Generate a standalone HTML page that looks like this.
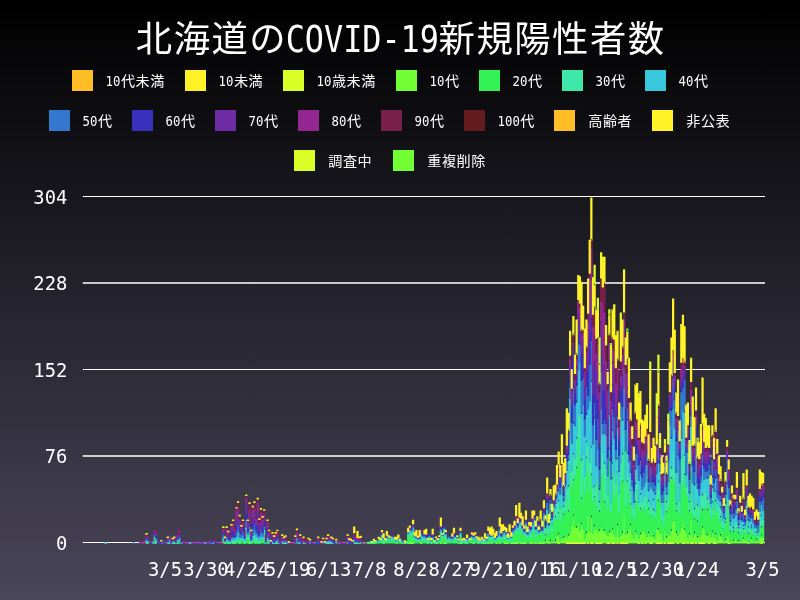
<!DOCTYPE html>
<html lang="ja"><head><meta charset="utf-8"><title>北海道のCOVID-19新規陽性者数</title>
<style>
html,body{margin:0;padding:0;background:#000;}
body{width:800px;height:600px;overflow:hidden;}
svg{display:block;}
text{font-family:"Liberation Sans", "Noto Sans CJK JP", sans-serif;fill:#fff;}
.a{font-family:"DejaVu Sans Mono", "Liberation Mono", monospace;}
.t{font-size:36.34px;letter-spacing:1.51px;}
.l{font-size:14.11px;letter-spacing:0.59px;}
</style></head><body>
<svg width="800" height="600" viewBox="0 0 800 600">
<defs><linearGradient id="bg" x1="0" y1="0" x2="0" y2="1"><stop offset="0" stop-color="#000000"/><stop offset="1" stop-color="#4a465a"/></linearGradient></defs>
<rect width="800" height="600" fill="url(#bg)"/>

<text class="t" x="135.81" y="52.28">北海道の</text>
<text class="a" transform="translate(285.69 51.90) scale(0.8719 1)" font-size="36.49" text-anchor="start">COVID-19</text>
<text class="t" x="438.61" y="52.28">新規陽性者数</text>
<rect x="72" y="70" width="21" height="21" fill="#FFBE26"/>
<text class="a" transform="translate(105.61 85.50) scale(0.9383 1)" font-size="13.17" text-anchor="start">10</text>
<text class="l" x="120.89" y="85.65">代未満</text>
<rect x="185" y="70" width="21" height="21" fill="#FFF226"/>
<text class="a" transform="translate(218.61 85.50) scale(0.9383 1)" font-size="13.17" text-anchor="start">10</text>
<text class="l" x="233.89" y="85.65">未満</text>
<rect x="283" y="70" width="21" height="21" fill="#D9FF26"/>
<text class="a" transform="translate(316.61 85.50) scale(0.9383 1)" font-size="13.17" text-anchor="start">10</text>
<text class="l" x="331.89" y="85.65">歳未満</text>
<rect x="396" y="70" width="21" height="21" fill="#72FF33"/>
<text class="a" transform="translate(429.61 85.50) scale(0.9383 1)" font-size="13.17" text-anchor="start">10</text>
<text class="l" x="444.89" y="85.65">代</text>
<rect x="479" y="70" width="21" height="21" fill="#33F255"/>
<text class="a" transform="translate(512.61 85.50) scale(0.9383 1)" font-size="13.17" text-anchor="start">20</text>
<text class="l" x="527.89" y="85.65">代</text>
<rect x="562" y="70" width="21" height="21" fill="#3DE8A8"/>
<text class="a" transform="translate(595.61 85.50) scale(0.9383 1)" font-size="13.17" text-anchor="start">30</text>
<text class="l" x="610.89" y="85.65">代</text>
<rect x="645" y="70" width="21" height="21" fill="#38C8DC"/>
<text class="a" transform="translate(678.61 85.50) scale(0.9383 1)" font-size="13.17" text-anchor="start">40</text>
<text class="l" x="693.89" y="85.65">代</text>
<rect x="49" y="110" width="21" height="21" fill="#3377CF"/>
<text class="a" transform="translate(82.61 125.50) scale(0.9383 1)" font-size="13.17" text-anchor="start">50</text>
<text class="l" x="97.89" y="125.65">代</text>
<rect x="132" y="110" width="21" height="21" fill="#3A30BE"/>
<text class="a" transform="translate(165.61 125.50) scale(0.9383 1)" font-size="13.17" text-anchor="start">60</text>
<text class="l" x="180.89" y="125.65">代</text>
<rect x="215" y="110" width="21" height="21" fill="#6E2BA5"/>
<text class="a" transform="translate(248.61 125.50) scale(0.9383 1)" font-size="13.17" text-anchor="start">70</text>
<text class="l" x="263.89" y="125.65">代</text>
<rect x="298" y="110" width="21" height="21" fill="#93278F"/>
<text class="a" transform="translate(331.61 125.50) scale(0.9383 1)" font-size="13.17" text-anchor="start">80</text>
<text class="l" x="346.89" y="125.65">代</text>
<rect x="381" y="110" width="21" height="21" fill="#7A1F4A"/>
<text class="a" transform="translate(414.61 125.50) scale(0.9383 1)" font-size="13.17" text-anchor="start">90</text>
<text class="l" x="429.89" y="125.65">代</text>
<rect x="464" y="110" width="21" height="21" fill="#651C1F"/>
<text class="a" transform="translate(497.61 125.50) scale(0.9383 1)" font-size="13.17" text-anchor="start">100</text>
<text class="l" x="520.24" y="125.65">代</text>
<rect x="554" y="110" width="21" height="21" fill="#FFBE26"/>
<text class="l" x="588.19" y="125.65">高齢者</text>
<rect x="652" y="110" width="21" height="21" fill="#FFF226"/>
<text class="l" x="686.19" y="125.65">非公表</text>
<rect x="294" y="150" width="21" height="21" fill="#D9FF26"/>
<text class="l" x="328.19" y="165.65">調査中</text>
<rect x="393" y="150" width="21" height="21" fill="#72FF33"/>
<text class="l" x="427.19" y="165.65">重複削除</text>
<rect x="82.75" y="196" width="682.25" height="1" fill="#fff"/>
<text class="a" transform="translate(67.30 203.55) scale(0.9734 1)" font-size="19.34" text-anchor="end">304</text>
<rect x="82.75" y="282" width="682.25" height="2" fill="#fff" fill-opacity="0.76"/>
<text class="a" transform="translate(67.30 290.05) scale(0.9734 1)" font-size="19.34" text-anchor="end">228</text>
<rect x="82.75" y="369" width="682.25" height="1" fill="#fff"/>
<text class="a" transform="translate(67.30 376.55) scale(0.9734 1)" font-size="19.34" text-anchor="end">152</text>
<rect x="82.75" y="455" width="682.25" height="2" fill="#fff" fill-opacity="0.76"/>
<text class="a" transform="translate(67.30 463.05) scale(0.9734 1)" font-size="19.34" text-anchor="end">76</text>
<rect x="82.75" y="542" width="682.25" height="1" fill="#fff"/>
<text class="a" transform="translate(67.30 549.55) scale(0.9734 1)" font-size="19.34" text-anchor="end">0</text>
<text class="a" transform="translate(165.00 575.60) scale(0.9734 1)" font-size="19.34" text-anchor="middle">3/5</text>
<text class="a" transform="translate(205.89 575.60) scale(0.9734 1)" font-size="19.34" text-anchor="middle">3/30</text>
<text class="a" transform="translate(246.78 575.60) scale(0.9734 1)" font-size="19.34" text-anchor="middle">4/24</text>
<text class="a" transform="translate(287.67 575.60) scale(0.9734 1)" font-size="19.34" text-anchor="middle">5/19</text>
<text class="a" transform="translate(328.56 575.60) scale(0.9734 1)" font-size="19.34" text-anchor="middle">6/13</text>
<text class="a" transform="translate(369.45 575.60) scale(0.9734 1)" font-size="19.34" text-anchor="middle">7/8</text>
<text class="a" transform="translate(410.34 575.60) scale(0.9734 1)" font-size="19.34" text-anchor="middle">8/2</text>
<text class="a" transform="translate(451.23 575.60) scale(0.9734 1)" font-size="19.34" text-anchor="middle">8/27</text>
<text class="a" transform="translate(492.12 575.60) scale(0.9734 1)" font-size="19.34" text-anchor="middle">9/21</text>
<text class="a" transform="translate(533.01 575.60) scale(0.9734 1)" font-size="19.34" text-anchor="middle">10/16</text>
<text class="a" transform="translate(573.90 575.60) scale(0.9734 1)" font-size="19.34" text-anchor="middle">11/10</text>
<text class="a" transform="translate(614.79 575.60) scale(0.9734 1)" font-size="19.34" text-anchor="middle">12/5</text>
<text class="a" transform="translate(655.68 575.60) scale(0.9734 1)" font-size="19.34" text-anchor="middle">12/30</text>
<text class="a" transform="translate(696.57 575.60) scale(0.9734 1)" font-size="19.34" text-anchor="middle">1/24</text>
<text class="a" transform="translate(762.50 575.60) scale(0.9734 1)" font-size="19.34" text-anchor="middle">3/5</text>
<g>
<path fill="#D9FF26" d="M557.52 542.18h2.25v1.7h-2.25zM565.7 542.18h2.25v1.7h-2.25zM567.33 542.18h2.25v1.7h-2.25zM568.97 542.18h2.25v1.7h-2.25zM570.6 542.18h2.25v1.7h-2.25zM572.24 542.18h2.25v1.7h-2.25zM573.87 542.18h2.25v1.7h-2.25zM575.51 542.18h2.25v1.7h-2.25zM577.15 542.18h2.25v1.7h-2.25zM578.78 542.18h2.25v1.7h-2.25zM580.42 542.18h2.25v1.7h-2.25zM582.05 542.18h2.25v1.7h-2.25zM583.69 542.18h2.25v1.7h-2.25zM586.96 542.18h2.25v1.7h-2.25zM590.23 542.18h2.25v1.7h-2.25zM591.87 542.18h2.25v1.7h-2.25zM595.14 542.18h2.25v1.7h-2.25zM596.77 542.18h2.25v1.7h-2.25zM598.41 542.18h2.25v1.7h-2.25zM600.04 542.18h2.25v1.7h-2.25zM606.58 542.18h2.25v1.7h-2.25zM608.22 542.18h2.25v1.7h-2.25zM611.49 542.18h2.25v1.7h-2.25zM613.13 542.18h2.25v1.7h-2.25zM616.4 542.18h2.25v1.7h-2.25zM619.67 542.18h2.25v1.7h-2.25zM621.3 542.18h2.25v1.7h-2.25zM622.94 542.18h2.25v1.7h-2.25zM624.57 542.18h2.25v1.7h-2.25zM626.21 542.18h2.25v1.7h-2.25zM637.66 542.18h2.25v1.7h-2.25zM640.93 542.18h2.25v1.7h-2.25zM644.2 542.18h2.25v1.7h-2.25zM649.11 542.18h2.25v1.7h-2.25zM650.74 542.18h2.25v1.7h-2.25zM655.65 542.18h2.25v1.7h-2.25zM657.28 542.18h2.25v1.7h-2.25zM658.92 542.18h2.25v1.7h-2.25zM660.56 542.18h2.25v1.7h-2.25zM663.83 542.18h2.25v1.7h-2.25zM667.1 542.18h2.25v1.7h-2.25zM668.73 542.18h2.25v1.7h-2.25zM670.37 542.18h2.25v1.7h-2.25zM672 542.18h2.25v1.7h-2.25zM676.91 542.18h2.25v1.7h-2.25zM681.82 542.18h2.25v1.7h-2.25zM683.45 542.18h2.25v1.7h-2.25zM686.72 542.18h2.25v1.7h-2.25zM689.99 542.18h2.25v1.7h-2.25zM691.63 542.18h2.25v1.7h-2.25zM694.9 542.18h2.25v1.7h-2.25zM698.17 542.18h2.25v1.7h-2.25zM699.81 542.18h2.25v1.7h-2.25zM701.44 542.18h2.25v1.7h-2.25zM703.08 542.18h2.25v1.7h-2.25zM707.99 542.18h2.25v1.7h-2.25zM712.89 542.18h2.25v1.7h-2.25zM714.53 542.18h2.25v1.7h-2.25zM727.61 542.18h2.25v1.7h-2.25zM760.32 542.18h2.25v1.7h-2.25z"/>
<path fill="#72FF33" d="M248.41 542.18h2.25v1.7h-2.25zM407.05 542.18h2.25v1.7h-2.25zM408.69 542.18h2.25v1.7h-2.25zM410.33 542.18h2.25v1.7h-2.25zM411.96 542.18h2.25v1.7h-2.25zM420.14 542.18h2.25v1.7h-2.25zM439.76 542.18h2.25v1.7h-2.25zM443.04 542.18h2.25v1.7h-2.25zM444.67 542.18h2.25v1.7h-2.25zM459.39 542.18h2.25v1.7h-2.25zM472.47 542.18h2.25v1.7h-2.25zM483.92 542.18h2.25v1.7h-2.25zM487.19 542.18h2.25v1.7h-2.25zM490.46 542.18h2.25v1.7h-2.25zM495.37 542.18h2.25v1.7h-2.25zM498.64 542.18h2.25v1.7h-2.25zM503.55 542.18h2.25v1.7h-2.25zM505.18 542.18h2.25v1.7h-2.25zM506.82 542.18h2.25v1.7h-2.25zM510.09 542.18h2.25v1.7h-2.25zM511.73 542.18h2.25v1.7h-2.25zM513.36 542.18h2.25v1.7h-2.25zM515 542.18h2.25v1.7h-2.25zM516.63 542.18h2.25v1.7h-2.25zM518.27 541.32h2.25v2.28h-2.25zM519.9 542.18h2.25v1.7h-2.25zM521.54 542.18h2.25v1.7h-2.25zM523.17 542.18h2.25v1.7h-2.25zM524.81 542.18h2.25v1.7h-2.25zM528.08 541.32h2.25v2.28h-2.25zM529.72 542.18h2.25v1.7h-2.25zM531.35 542.18h2.25v1.7h-2.25zM532.99 541.32h2.25v2.28h-2.25zM534.62 542.18h2.25v1.7h-2.25zM536.26 541.32h2.25v2.28h-2.25zM537.89 542.18h2.25v1.7h-2.25zM539.53 542.18h2.25v1.7h-2.25zM541.16 542.18h2.25v1.7h-2.25zM542.8 542.18h2.25v1.7h-2.25zM544.44 541.32h2.25v2.28h-2.25zM546.07 536.77h2.25v6.83h-2.25zM547.71 542.18h2.25v1.7h-2.25zM549.34 541.32h2.25v2.28h-2.25zM550.98 541.32h2.25v2.28h-2.25zM552.61 541.32h2.25v2.28h-2.25zM554.25 541.32h2.25v2.28h-2.25zM555.88 535.63h2.25v7.97h-2.25zM557.52 534.49h2.25v7.97h-2.25zM559.16 540.19h2.25v3.41h-2.25zM560.79 539.05h2.25v4.55h-2.25zM562.43 537.91h2.25v5.69h-2.25zM564.06 537.91h2.25v5.69h-2.25zM565.7 537.91h2.25v4.55h-2.25zM567.33 535.63h2.25v6.83h-2.25zM568.97 533.36h2.25v9.11h-2.25zM570.6 525.39h2.25v17.07h-2.25zM572.24 516.28h2.25v26.18h-2.25zM573.87 526.53h2.25v15.93h-2.25zM575.51 527.67h2.25v14.8h-2.25zM577.15 523.11h2.25v19.35h-2.25zM578.78 531.08h2.25v11.38h-2.25zM580.42 524.25h2.25v18.21h-2.25zM582.05 528.8h2.25v13.66h-2.25zM583.69 539.05h2.25v3.41h-2.25zM585.32 533.36h2.25v10.24h-2.25zM586.96 515.15h2.25v27.32h-2.25zM588.59 532.22h2.25v11.38h-2.25zM590.23 517.42h2.25v25.04h-2.25zM591.87 533.36h2.25v9.11h-2.25zM593.5 526.53h2.25v17.07h-2.25zM595.14 529.94h2.25v12.52h-2.25zM596.77 532.22h2.25v10.24h-2.25zM598.41 531.08h2.25v11.38h-2.25zM600.04 527.67h2.25v14.8h-2.25zM601.68 531.08h2.25v12.52h-2.25zM603.31 531.08h2.25v12.52h-2.25zM604.95 533.36h2.25v10.24h-2.25zM606.58 535.63h2.25v6.83h-2.25zM608.22 532.22h2.25v10.24h-2.25zM609.86 532.22h2.25v11.38h-2.25zM611.49 529.94h2.25v12.52h-2.25zM613.13 534.49h2.25v7.97h-2.25zM614.76 536.77h2.25v6.83h-2.25zM616.4 525.39h2.25v17.07h-2.25zM618.03 537.91h2.25v5.69h-2.25zM619.67 535.63h2.25v6.83h-2.25zM621.3 533.36h2.25v9.11h-2.25zM622.94 515.15h2.25v27.32h-2.25zM624.57 534.49h2.25v7.97h-2.25zM626.21 533.36h2.25v9.11h-2.25zM627.85 529.94h2.25v13.66h-2.25zM629.48 525.39h2.25v18.21h-2.25zM631.12 534.49h2.25v9.11h-2.25zM632.75 539.05h2.25v4.55h-2.25zM634.39 532.22h2.25v11.38h-2.25zM636.02 534.49h2.25v9.11h-2.25zM637.66 539.05h2.25v3.41h-2.25zM639.29 534.49h2.25v9.11h-2.25zM640.93 532.22h2.25v10.24h-2.25zM642.57 531.08h2.25v12.52h-2.25zM644.2 533.36h2.25v9.11h-2.25zM645.84 536.77h2.25v6.83h-2.25zM647.47 533.36h2.25v10.24h-2.25zM649.11 536.77h2.25v5.69h-2.25zM650.74 533.36h2.25v9.11h-2.25zM652.38 536.77h2.25v6.83h-2.25zM654.01 539.05h2.25v4.55h-2.25zM655.65 528.8h2.25v13.66h-2.25zM657.28 529.94h2.25v12.52h-2.25zM658.92 533.36h2.25v9.11h-2.25zM660.56 532.22h2.25v10.24h-2.25zM662.19 540.19h2.25v3.41h-2.25zM663.83 531.08h2.25v11.38h-2.25zM665.46 537.91h2.25v5.69h-2.25zM667.1 533.36h2.25v9.11h-2.25zM668.73 535.63h2.25v6.83h-2.25zM670.37 531.08h2.25v11.38h-2.25zM672 521.98h2.25v20.49h-2.25zM673.64 520.84h2.25v22.76h-2.25zM675.28 533.36h2.25v10.24h-2.25zM676.91 535.63h2.25v6.83h-2.25zM678.55 532.22h2.25v11.38h-2.25zM680.18 527.67h2.25v15.93h-2.25zM681.82 523.11h2.25v19.35h-2.25zM683.45 529.94h2.25v12.52h-2.25zM685.09 532.22h2.25v11.38h-2.25zM686.72 537.91h2.25v4.55h-2.25zM688.36 534.49h2.25v9.11h-2.25zM689.99 519.7h2.25v22.76h-2.25zM691.63 537.91h2.25v4.55h-2.25zM693.27 533.36h2.25v10.24h-2.25zM694.9 534.49h2.25v7.97h-2.25zM696.54 537.91h2.25v5.69h-2.25zM698.17 536.77h2.25v5.69h-2.25zM699.81 534.49h2.25v7.97h-2.25zM701.44 527.67h2.25v14.8h-2.25zM703.08 528.8h2.25v13.66h-2.25zM704.71 534.49h2.25v9.11h-2.25zM706.35 535.63h2.25v7.97h-2.25zM707.99 532.22h2.25v10.24h-2.25zM709.62 536.77h2.25v6.83h-2.25zM711.26 532.22h2.25v11.38h-2.25zM712.89 537.91h2.25v4.55h-2.25zM714.53 534.49h2.25v7.97h-2.25zM716.16 540.19h2.25v3.41h-2.25zM717.8 533.36h2.25v10.24h-2.25zM719.43 535.63h2.25v7.97h-2.25zM721.07 536.77h2.25v6.83h-2.25zM722.7 541.32h2.25v2.28h-2.25zM724.34 540.19h2.25v3.41h-2.25zM725.98 535.63h2.25v7.97h-2.25zM727.61 534.49h2.25v7.97h-2.25zM729.25 542.18h2.25v1.7h-2.25zM730.88 540.19h2.25v3.41h-2.25zM732.52 541.32h2.25v2.28h-2.25zM734.15 539.05h2.25v4.55h-2.25zM735.79 541.32h2.25v2.28h-2.25zM737.42 541.32h2.25v2.28h-2.25zM739.06 541.32h2.25v2.28h-2.25zM740.69 541.32h2.25v2.28h-2.25zM742.33 539.05h2.25v4.55h-2.25zM743.97 540.19h2.25v3.41h-2.25zM745.6 536.77h2.25v6.83h-2.25zM747.24 542.18h2.25v1.7h-2.25zM748.87 541.32h2.25v2.28h-2.25zM750.51 539.05h2.25v4.55h-2.25zM752.14 541.32h2.25v2.28h-2.25zM753.78 541.32h2.25v2.28h-2.25zM755.41 540.19h2.25v3.41h-2.25zM757.05 541.32h2.25v2.28h-2.25zM758.69 537.91h2.25v5.69h-2.25zM760.32 535.63h2.25v6.83h-2.25zM761.96 537.91h2.25v5.69h-2.25z"/>
<path fill="#33F255" d="M145.38 542.18h2.25v1.7h-2.25zM147.01 542.18h2.25v1.7h-2.25zM151.92 542.18h2.25v1.7h-2.25zM153.55 541.32h2.25v2.28h-2.25zM155.19 542.18h2.25v1.7h-2.25zM168.27 542.18h2.25v1.7h-2.25zM171.54 542.18h2.25v1.7h-2.25zM173.18 542.18h2.25v1.7h-2.25zM176.45 542.18h2.25v1.7h-2.25zM178.09 541.32h2.25v2.28h-2.25zM222.24 541.32h2.25v2.28h-2.25zM223.88 542.18h2.25v1.7h-2.25zM225.52 541.32h2.25v2.28h-2.25zM227.15 542.18h2.25v1.7h-2.25zM230.42 541.32h2.25v2.28h-2.25zM232.06 542.18h2.25v1.7h-2.25zM233.69 542.18h2.25v1.7h-2.25zM235.33 541.32h2.25v2.28h-2.25zM236.96 539.05h2.25v4.55h-2.25zM238.6 542.18h2.25v1.7h-2.25zM240.23 541.32h2.25v2.28h-2.25zM241.87 541.32h2.25v2.28h-2.25zM243.51 542.18h2.25v1.7h-2.25zM245.14 540.19h2.25v3.41h-2.25zM246.78 540.19h2.25v3.41h-2.25zM248.41 537.91h2.25v4.55h-2.25zM250.05 542.18h2.25v1.7h-2.25zM251.68 541.32h2.25v2.28h-2.25zM253.32 540.19h2.25v3.41h-2.25zM254.95 542.18h2.25v1.7h-2.25zM256.59 540.19h2.25v3.41h-2.25zM258.22 542.18h2.25v1.7h-2.25zM259.86 540.19h2.25v3.41h-2.25zM261.5 540.19h2.25v3.41h-2.25zM263.13 539.05h2.25v4.55h-2.25zM266.4 541.32h2.25v2.28h-2.25zM268.04 542.18h2.25v1.7h-2.25zM271.31 542.18h2.25v1.7h-2.25zM276.22 542.18h2.25v1.7h-2.25zM281.12 542.18h2.25v1.7h-2.25zM295.84 541.32h2.25v2.28h-2.25zM302.38 542.18h2.25v1.7h-2.25zM304.02 542.18h2.25v1.7h-2.25zM325.28 542.18h2.25v1.7h-2.25zM330.19 542.18h2.25v1.7h-2.25zM335.09 542.18h2.25v1.7h-2.25zM346.54 542.18h2.25v1.7h-2.25zM353.08 542.18h2.25v1.7h-2.25zM356.35 542.18h2.25v1.7h-2.25zM357.99 542.18h2.25v1.7h-2.25zM359.63 542.18h2.25v1.7h-2.25zM362.9 542.18h2.25v1.7h-2.25zM366.17 542.18h2.25v1.7h-2.25zM367.8 542.18h2.25v1.7h-2.25zM369.44 542.18h2.25v1.7h-2.25zM371.07 542.18h2.25v1.7h-2.25zM372.71 542.18h2.25v1.7h-2.25zM374.34 542.18h2.25v1.7h-2.25zM375.98 541.32h2.25v2.28h-2.25zM377.62 541.32h2.25v2.28h-2.25zM379.25 541.32h2.25v2.28h-2.25zM380.89 539.05h2.25v4.55h-2.25zM382.52 542.18h2.25v1.7h-2.25zM384.16 541.32h2.25v2.28h-2.25zM385.79 539.05h2.25v4.55h-2.25zM387.43 541.32h2.25v2.28h-2.25zM389.06 541.32h2.25v2.28h-2.25zM390.7 540.19h2.25v3.41h-2.25zM392.34 540.19h2.25v3.41h-2.25zM393.97 541.32h2.25v2.28h-2.25zM395.61 542.18h2.25v1.7h-2.25zM397.24 540.19h2.25v3.41h-2.25zM398.88 541.32h2.25v2.28h-2.25zM400.51 542.18h2.25v1.7h-2.25zM402.15 542.18h2.25v1.7h-2.25zM403.78 542.18h2.25v1.7h-2.25zM405.42 542.18h2.25v1.7h-2.25zM407.05 535.63h2.25v6.83h-2.25zM408.69 535.63h2.25v6.83h-2.25zM410.33 536.77h2.25v5.69h-2.25zM411.96 534.49h2.25v7.97h-2.25zM413.6 539.05h2.25v4.55h-2.25zM415.23 541.32h2.25v2.28h-2.25zM416.87 541.32h2.25v2.28h-2.25zM418.5 541.32h2.25v2.28h-2.25zM420.14 536.77h2.25v5.69h-2.25zM421.77 541.32h2.25v2.28h-2.25zM423.41 539.05h2.25v4.55h-2.25zM425.05 541.32h2.25v2.28h-2.25zM426.68 542.18h2.25v1.7h-2.25zM428.32 539.05h2.25v4.55h-2.25zM429.95 542.18h2.25v1.7h-2.25zM431.59 540.19h2.25v3.41h-2.25zM433.22 542.18h2.25v1.7h-2.25zM434.86 542.18h2.25v1.7h-2.25zM436.49 542.18h2.25v1.7h-2.25zM438.13 540.19h2.25v3.41h-2.25zM439.76 535.63h2.25v6.83h-2.25zM441.4 539.05h2.25v4.55h-2.25zM443.04 534.49h2.25v7.97h-2.25zM444.67 537.91h2.25v4.55h-2.25zM446.31 541.32h2.25v2.28h-2.25zM447.94 540.19h2.25v3.41h-2.25zM449.58 541.32h2.25v2.28h-2.25zM451.21 541.32h2.25v2.28h-2.25zM452.85 540.19h2.25v3.41h-2.25zM454.48 539.05h2.25v4.55h-2.25zM456.12 540.19h2.25v3.41h-2.25zM457.75 542.18h2.25v1.7h-2.25zM459.39 537.91h2.25v4.55h-2.25zM461.03 542.18h2.25v1.7h-2.25zM462.66 541.32h2.25v2.28h-2.25zM464.3 542.18h2.25v1.7h-2.25zM465.93 542.18h2.25v1.7h-2.25zM467.57 541.32h2.25v2.28h-2.25zM469.2 541.32h2.25v2.28h-2.25zM470.84 540.19h2.25v3.41h-2.25zM472.47 540.19h2.25v2.28h-2.25zM474.11 539.05h2.25v4.55h-2.25zM475.75 541.32h2.25v2.28h-2.25zM477.38 542.18h2.25v1.7h-2.25zM479.02 541.32h2.25v2.28h-2.25zM480.65 542.18h2.25v1.7h-2.25zM482.29 542.18h2.25v1.7h-2.25zM483.92 541.04h2.25v1.7h-2.25zM485.56 542.18h2.25v1.7h-2.25zM487.19 537.91h2.25v4.55h-2.25zM488.83 541.32h2.25v2.28h-2.25zM490.46 539.05h2.25v3.41h-2.25zM492.1 539.05h2.25v4.55h-2.25zM493.74 541.32h2.25v2.28h-2.25zM495.37 540.19h2.25v2.28h-2.25zM497.01 539.05h2.25v4.55h-2.25zM498.64 537.91h2.25v4.55h-2.25zM500.28 540.19h2.25v3.41h-2.25zM501.91 536.77h2.25v6.83h-2.25zM503.55 537.91h2.25v4.55h-2.25zM505.18 539.05h2.25v3.41h-2.25zM506.82 541.04h2.25v1.7h-2.25zM508.46 537.91h2.25v5.69h-2.25zM510.09 541.04h2.25v1.7h-2.25zM511.73 535.63h2.25v6.83h-2.25zM513.36 532.22h2.25v10.24h-2.25zM515 531.08h2.25v11.38h-2.25zM516.63 534.49h2.25v7.97h-2.25zM518.27 529.94h2.25v11.38h-2.25zM519.9 528.8h2.25v13.66h-2.25zM521.54 534.49h2.25v7.97h-2.25zM523.17 535.63h2.25v6.83h-2.25zM524.81 532.22h2.25v10.24h-2.25zM526.45 537.91h2.25v5.69h-2.25zM528.08 535.63h2.25v5.69h-2.25zM529.72 537.91h2.25v4.55h-2.25zM531.35 532.22h2.25v10.24h-2.25zM532.99 528.8h2.25v12.52h-2.25zM534.62 537.91h2.25v4.55h-2.25zM536.26 533.36h2.25v7.97h-2.25zM537.89 535.63h2.25v6.83h-2.25zM539.53 531.08h2.25v11.38h-2.25zM541.16 534.49h2.25v7.97h-2.25zM542.8 532.22h2.25v10.24h-2.25zM544.44 535.63h2.25v5.69h-2.25zM546.07 521.98h2.25v14.8h-2.25zM547.71 533.36h2.25v9.11h-2.25zM549.34 520.84h2.25v20.49h-2.25zM550.98 532.22h2.25v9.11h-2.25zM552.61 521.98h2.25v19.35h-2.25zM554.25 517.42h2.25v23.9h-2.25zM555.88 519.7h2.25v15.93h-2.25zM557.52 514.01h2.25v20.49h-2.25zM559.16 521.98h2.25v18.21h-2.25zM560.79 503.76h2.25v35.28h-2.25zM562.43 515.15h2.25v22.76h-2.25zM564.06 511.73h2.25v26.18h-2.25zM565.7 498.07h2.25v39.84h-2.25zM567.33 511.73h2.25v23.9h-2.25zM568.97 463.93h2.25v69.43h-2.25zM570.6 487.83h2.25v37.56h-2.25zM572.24 481h2.25v35.28h-2.25zM573.87 476.45h2.25v50.08h-2.25zM575.51 468.48h2.25v59.18h-2.25zM577.15 437.75h2.25v85.36h-2.25zM578.78 459.38h2.25v71.7h-2.25zM580.42 499.21h2.25v25.04h-2.25zM582.05 479.86h2.25v48.94h-2.25zM583.69 492.38h2.25v46.66h-2.25zM585.32 458.24h2.25v75.12h-2.25zM586.96 471.9h2.25v43.25h-2.25zM588.59 490.11h2.25v42.11h-2.25zM590.23 475.31h2.25v42.11h-2.25zM591.87 501.49h2.25v31.87h-2.25zM593.5 498.07h2.25v28.45h-2.25zM595.14 507.18h2.25v22.76h-2.25zM596.77 485.55h2.25v46.66h-2.25zM598.41 511.73h2.25v19.35h-2.25zM600.04 477.59h2.25v50.08h-2.25zM601.68 474.17h2.25v56.91h-2.25zM603.31 502.63h2.25v28.45h-2.25zM604.95 479.86h2.25v53.49h-2.25zM606.58 510.59h2.25v25.04h-2.25zM608.22 460.51h2.25v71.7h-2.25zM609.86 511.73h2.25v20.49h-2.25zM611.49 478.73h2.25v51.22h-2.25zM613.13 498.07h2.25v36.42h-2.25zM614.76 491.24h2.25v45.53h-2.25zM616.4 473.03h2.25v52.36h-2.25zM618.03 512.87h2.25v25.04h-2.25zM619.67 481h2.25v54.63h-2.25zM621.3 482.14h2.25v51.22h-2.25zM622.94 447.99h2.25v67.15h-2.25zM624.57 504.9h2.25v29.59h-2.25zM626.21 482.14h2.25v51.22h-2.25zM627.85 493.52h2.25v36.42h-2.25zM629.48 504.9h2.25v20.49h-2.25zM631.12 516.28h2.25v18.21h-2.25zM632.75 518.56h2.25v20.49h-2.25zM634.39 502.63h2.25v29.59h-2.25zM636.02 491.24h2.25v43.25h-2.25zM637.66 507.18h2.25v31.87h-2.25zM639.29 509.46h2.25v25.04h-2.25zM640.93 510.59h2.25v21.62h-2.25zM642.57 507.18h2.25v23.9h-2.25zM644.2 510.59h2.25v22.76h-2.25zM645.84 502.63h2.25v34.14h-2.25zM647.47 509.46h2.25v23.9h-2.25zM649.11 516.28h2.25v20.49h-2.25zM650.74 516.28h2.25v17.07h-2.25zM652.38 510.59h2.25v26.18h-2.25zM654.01 518.56h2.25v20.49h-2.25zM655.65 498.07h2.25v30.73h-2.25zM657.28 501.49h2.25v28.45h-2.25zM658.92 495.8h2.25v37.56h-2.25zM660.56 520.84h2.25v11.38h-2.25zM662.19 525.39h2.25v14.8h-2.25zM663.83 498.07h2.25v33.01h-2.25zM665.46 512.87h2.25v25.04h-2.25zM667.1 507.18h2.25v26.18h-2.25zM668.73 478.73h2.25v56.91h-2.25zM670.37 478.73h2.25v52.36h-2.25zM672 478.73h2.25v43.25h-2.25zM673.64 481h2.25v39.84h-2.25zM675.28 511.73h2.25v21.62h-2.25zM676.91 487.83h2.25v47.8h-2.25zM678.55 514.01h2.25v18.21h-2.25zM680.18 485.55h2.25v42.11h-2.25zM681.82 481h2.25v42.11h-2.25zM683.45 475.31h2.25v54.63h-2.25zM685.09 494.66h2.25v37.56h-2.25zM686.72 495.8h2.25v42.11h-2.25zM688.36 511.73h2.25v22.76h-2.25zM689.99 471.9h2.25v47.8h-2.25zM691.63 514.01h2.25v23.9h-2.25zM693.27 519.7h2.25v13.66h-2.25zM694.9 502.63h2.25v31.87h-2.25zM696.54 521.98h2.25v15.93h-2.25zM698.17 516.28h2.25v20.49h-2.25zM699.81 507.18h2.25v27.32h-2.25zM701.44 510.59h2.25v17.07h-2.25zM703.08 509.46h2.25v19.35h-2.25zM704.71 506.04h2.25v28.45h-2.25zM706.35 510.59h2.25v25.04h-2.25zM707.99 503.76h2.25v28.45h-2.25zM709.62 518.56h2.25v18.21h-2.25zM711.26 502.63h2.25v29.59h-2.25zM712.89 516.28h2.25v21.62h-2.25zM714.53 501.49h2.25v33.01h-2.25zM716.16 511.73h2.25v28.45h-2.25zM717.8 519.7h2.25v13.66h-2.25zM719.43 517.42h2.25v18.21h-2.25zM721.07 528.8h2.25v7.97h-2.25zM722.7 528.8h2.25v12.52h-2.25zM724.34 523.11h2.25v17.07h-2.25zM725.98 502.63h2.25v33.01h-2.25zM727.61 514.01h2.25v20.49h-2.25zM729.25 532.22h2.25v10.24h-2.25zM730.88 531.08h2.25v9.11h-2.25zM732.52 532.22h2.25v9.11h-2.25zM734.15 529.94h2.25v9.11h-2.25zM735.79 527.67h2.25v13.66h-2.25zM737.42 533.36h2.25v7.97h-2.25zM739.06 534.49h2.25v6.83h-2.25zM740.69 533.36h2.25v7.97h-2.25zM742.33 529.94h2.25v9.11h-2.25zM743.97 533.36h2.25v6.83h-2.25zM745.6 521.98h2.25v14.8h-2.25zM747.24 534.49h2.25v7.97h-2.25zM748.87 533.36h2.25v7.97h-2.25zM750.51 528.8h2.25v10.24h-2.25zM752.14 535.63h2.25v5.69h-2.25zM753.78 534.49h2.25v6.83h-2.25zM755.41 533.36h2.25v6.83h-2.25zM757.05 539.05h2.25v2.28h-2.25zM758.69 526.53h2.25v11.38h-2.25zM760.32 527.67h2.25v7.97h-2.25zM761.96 526.53h2.25v11.38h-2.25z"/>
<path fill="#3DE8A8" d="M145.38 541.04h2.25v1.7h-2.25zM153.55 539.05h2.25v2.28h-2.25zM155.19 541.04h2.25v1.7h-2.25zM166.64 542.18h2.25v1.7h-2.25zM168.27 541.04h2.25v1.7h-2.25zM176.45 541.04h2.25v1.7h-2.25zM178.09 539.9h2.25v1.7h-2.25zM204.25 542.18h2.25v1.7h-2.25zM212.43 542.18h2.25v1.7h-2.25zM222.24 539.9h2.25v1.7h-2.25zM223.88 541.04h2.25v1.7h-2.25zM225.52 539.9h2.25v1.7h-2.25zM227.15 541.04h2.25v1.7h-2.25zM228.79 542.18h2.25v1.7h-2.25zM230.42 539.9h2.25v1.7h-2.25zM232.06 541.04h2.25v1.7h-2.25zM233.69 540.19h2.25v2.28h-2.25zM235.33 539.9h2.25v1.7h-2.25zM236.96 533.36h2.25v5.69h-2.25zM238.6 540.19h2.25v2.28h-2.25zM240.23 539.05h2.25v2.28h-2.25zM241.87 539.05h2.25v2.28h-2.25zM243.51 541.04h2.25v1.7h-2.25zM245.14 533.36h2.25v6.83h-2.25zM246.78 536.77h2.25v3.41h-2.25zM248.41 534.49h2.25v3.41h-2.25zM250.05 541.04h2.25v1.7h-2.25zM251.68 539.9h2.25v1.7h-2.25zM253.32 535.63h2.25v4.55h-2.25zM254.95 539.05h2.25v3.41h-2.25zM256.59 538.77h2.25v1.7h-2.25zM258.22 541.04h2.25v1.7h-2.25zM259.86 538.77h2.25v1.7h-2.25zM261.5 538.77h2.25v1.7h-2.25zM263.13 535.63h2.25v3.41h-2.25zM266.4 539.05h2.25v2.28h-2.25zM268.04 541.04h2.25v1.7h-2.25zM274.58 542.18h2.25v1.7h-2.25zM276.22 541.04h2.25v1.7h-2.25zM282.76 542.18h2.25v1.7h-2.25zM284.39 542.18h2.25v1.7h-2.25zM295.84 539.9h2.25v1.7h-2.25zM308.93 542.18h2.25v1.7h-2.25zM326.92 542.18h2.25v1.7h-2.25zM328.55 542.18h2.25v1.7h-2.25zM353.08 541.04h2.25v1.7h-2.25zM354.72 542.18h2.25v1.7h-2.25zM369.44 541.04h2.25v1.7h-2.25zM372.71 541.04h2.25v1.7h-2.25zM374.34 541.04h2.25v1.7h-2.25zM377.62 539.9h2.25v1.7h-2.25zM380.89 535.63h2.25v3.41h-2.25zM382.52 540.19h2.25v2.28h-2.25zM384.16 539.9h2.25v1.7h-2.25zM385.79 537.63h2.25v1.7h-2.25zM387.43 539.05h2.25v2.28h-2.25zM389.06 539.05h2.25v2.28h-2.25zM390.7 537.91h2.25v2.28h-2.25zM392.34 538.77h2.25v1.7h-2.25zM393.97 539.9h2.25v1.7h-2.25zM395.61 541.04h2.25v1.7h-2.25zM398.88 539.9h2.25v1.7h-2.25zM400.51 541.04h2.25v1.7h-2.25zM405.42 541.04h2.25v1.7h-2.25zM407.05 534.21h2.25v1.7h-2.25zM408.69 532.22h2.25v3.41h-2.25zM410.33 533.36h2.25v3.41h-2.25zM411.96 531.08h2.25v3.41h-2.25zM413.6 537.63h2.25v1.7h-2.25zM415.23 539.05h2.25v2.28h-2.25zM416.87 539.9h2.25v1.7h-2.25zM418.5 539.9h2.25v1.7h-2.25zM420.14 535.35h2.25v1.7h-2.25zM421.77 539.05h2.25v2.28h-2.25zM423.41 537.63h2.25v1.7h-2.25zM425.05 539.9h2.25v1.7h-2.25zM426.68 541.04h2.25v1.7h-2.25zM428.32 536.77h2.25v2.28h-2.25zM429.95 541.04h2.25v1.7h-2.25zM431.59 538.77h2.25v1.7h-2.25zM433.22 541.04h2.25v1.7h-2.25zM434.86 541.04h2.25v1.7h-2.25zM436.49 541.04h2.25v1.7h-2.25zM438.13 538.77h2.25v1.7h-2.25zM439.76 532.22h2.25v3.41h-2.25zM441.4 536.77h2.25v2.28h-2.25zM443.04 531.08h2.25v3.41h-2.25zM444.67 536.49h2.25v1.7h-2.25zM446.31 539.9h2.25v1.7h-2.25zM447.94 538.77h2.25v1.7h-2.25zM449.58 539.9h2.25v1.7h-2.25zM451.21 539.9h2.25v1.7h-2.25zM452.85 537.91h2.25v2.28h-2.25zM454.48 537.63h2.25v1.7h-2.25zM456.12 538.77h2.25v1.7h-2.25zM457.75 541.04h2.25v1.7h-2.25zM459.39 534.49h2.25v3.41h-2.25zM461.03 541.04h2.25v1.7h-2.25zM462.66 539.9h2.25v1.7h-2.25zM464.3 541.04h2.25v1.7h-2.25zM465.93 541.04h2.25v1.7h-2.25zM467.57 539.05h2.25v2.28h-2.25zM469.2 539.9h2.25v1.7h-2.25zM470.84 537.91h2.25v2.28h-2.25zM472.47 538.77h2.25v1.7h-2.25zM474.11 536.77h2.25v2.28h-2.25zM475.75 539.9h2.25v1.7h-2.25zM477.38 541.04h2.25v1.7h-2.25zM479.02 539.9h2.25v1.7h-2.25zM480.65 541.04h2.25v1.7h-2.25zM482.29 541.04h2.25v1.7h-2.25zM483.92 539.05h2.25v2.28h-2.25zM485.56 541.04h2.25v1.7h-2.25zM487.19 536.49h2.25v1.7h-2.25zM488.83 537.91h2.25v3.41h-2.25zM490.46 536.77h2.25v2.28h-2.25zM492.1 536.77h2.25v2.28h-2.25zM493.74 539.9h2.25v1.7h-2.25zM495.37 538.77h2.25v1.7h-2.25zM497.01 536.77h2.25v2.28h-2.25zM498.64 535.63h2.25v2.28h-2.25zM500.28 537.91h2.25v2.28h-2.25zM501.91 534.49h2.25v2.28h-2.25zM503.55 534.49h2.25v3.41h-2.25zM505.18 536.77h2.25v2.28h-2.25zM506.82 539.05h2.25v2.28h-2.25zM508.46 536.49h2.25v1.7h-2.25zM510.09 539.05h2.25v2.28h-2.25zM511.73 534.21h2.25v1.7h-2.25zM513.36 530.8h2.25v1.7h-2.25zM515 527.67h2.25v3.41h-2.25zM516.63 531.08h2.25v3.41h-2.25zM518.27 525.39h2.25v4.55h-2.25zM519.9 525.39h2.25v3.41h-2.25zM521.54 531.08h2.25v3.41h-2.25zM523.17 534.21h2.25v1.7h-2.25zM524.81 528.8h2.25v3.41h-2.25zM526.45 535.63h2.25v2.28h-2.25zM528.08 532.22h2.25v3.41h-2.25zM529.72 533.36h2.25v4.55h-2.25zM531.35 528.8h2.25v3.41h-2.25zM532.99 524.25h2.25v4.55h-2.25zM534.62 533.36h2.25v4.55h-2.25zM536.26 527.67h2.25v5.69h-2.25zM537.89 533.36h2.25v2.28h-2.25zM539.53 528.8h2.25v2.28h-2.25zM541.16 533.08h2.25v1.7h-2.25zM542.8 520.84h2.25v11.38h-2.25zM544.44 528.8h2.25v6.83h-2.25zM546.07 515.15h2.25v6.83h-2.25zM547.71 528.8h2.25v4.55h-2.25zM549.34 511.73h2.25v9.11h-2.25zM550.98 525.39h2.25v6.83h-2.25zM552.61 511.73h2.25v10.24h-2.25zM554.25 508.32h2.25v9.11h-2.25zM555.88 503.76h2.25v15.93h-2.25zM557.52 501.49h2.25v12.52h-2.25zM559.16 508.32h2.25v13.66h-2.25zM560.79 490.11h2.25v13.66h-2.25zM562.43 507.18h2.25v7.97h-2.25zM564.06 499.21h2.25v12.52h-2.25zM565.7 488.97h2.25v9.11h-2.25zM567.33 486.69h2.25v25.04h-2.25zM568.97 440.03h2.25v23.9h-2.25zM570.6 470.76h2.25v17.07h-2.25zM572.24 454.82h2.25v26.18h-2.25zM573.87 458.24h2.25v18.21h-2.25zM575.51 438.89h2.25v29.59h-2.25zM577.15 413.85h2.25v23.9h-2.25zM578.78 416.13h2.25v43.25h-2.25zM580.42 460.51h2.25v38.7h-2.25zM582.05 453.69h2.25v26.18h-2.25zM583.69 476.45h2.25v15.93h-2.25zM585.32 442.3h2.25v15.93h-2.25zM586.96 445.72h2.25v26.18h-2.25zM588.59 462.79h2.25v27.32h-2.25zM590.23 447.99h2.25v27.32h-2.25zM591.87 487.83h2.25v13.66h-2.25zM593.5 486.69h2.25v11.38h-2.25zM595.14 483.28h2.25v23.9h-2.25zM596.77 473.03h2.25v12.52h-2.25zM598.41 502.63h2.25v9.11h-2.25zM600.04 440.03h2.25v37.56h-2.25zM601.68 452.55h2.25v21.62h-2.25zM603.31 463.93h2.25v38.7h-2.25zM604.95 468.48h2.25v11.38h-2.25zM606.58 494.66h2.25v15.93h-2.25zM608.22 449.13h2.25v11.38h-2.25zM609.86 503.76h2.25v7.97h-2.25zM611.49 463.93h2.25v14.8h-2.25zM613.13 475.31h2.25v22.76h-2.25zM614.76 483.28h2.25v7.97h-2.25zM616.4 459.38h2.25v13.66h-2.25zM618.03 493.52h2.25v19.35h-2.25zM619.67 462.79h2.25v18.21h-2.25zM621.3 454.82h2.25v27.32h-2.25zM622.94 429.78h2.25v18.21h-2.25zM624.57 481h2.25v23.9h-2.25zM626.21 453.69h2.25v28.45h-2.25zM627.85 476.45h2.25v17.07h-2.25zM629.48 491.24h2.25v13.66h-2.25zM631.12 504.9h2.25v11.38h-2.25zM632.75 508.32h2.25v10.24h-2.25zM634.39 484.42h2.25v18.21h-2.25zM636.02 476.45h2.25v14.8h-2.25zM637.66 502.63h2.25v4.55h-2.25zM639.29 494.66h2.25v14.8h-2.25zM640.93 501.49h2.25v9.11h-2.25zM642.57 496.94h2.25v10.24h-2.25zM644.2 496.94h2.25v13.66h-2.25zM645.84 474.17h2.25v28.45h-2.25zM647.47 501.49h2.25v7.97h-2.25zM649.11 504.9h2.25v11.38h-2.25zM650.74 508.32h2.25v7.97h-2.25zM652.38 500.35h2.25v10.24h-2.25zM654.01 511.73h2.25v6.83h-2.25zM655.65 488.97h2.25v9.11h-2.25zM657.28 482.14h2.25v19.35h-2.25zM658.92 488.97h2.25v6.83h-2.25zM660.56 508.32h2.25v12.52h-2.25zM662.19 516.28h2.25v9.11h-2.25zM663.83 487.83h2.25v10.24h-2.25zM665.46 502.63h2.25v10.24h-2.25zM667.1 494.66h2.25v12.52h-2.25zM668.73 457.1h2.25v21.62h-2.25zM670.37 468.48h2.25v10.24h-2.25zM672 450.27h2.25v28.45h-2.25zM673.64 469.62h2.25v11.38h-2.25zM675.28 504.9h2.25v6.83h-2.25zM676.91 471.9h2.25v15.93h-2.25zM678.55 501.49h2.25v12.52h-2.25zM680.18 458.24h2.25v27.32h-2.25zM681.82 447.99h2.25v33.01h-2.25zM683.45 455.96h2.25v19.35h-2.25zM685.09 486.69h2.25v7.97h-2.25zM686.72 484.42h2.25v11.38h-2.25zM688.36 502.63h2.25v9.11h-2.25zM689.99 455.96h2.25v15.93h-2.25zM691.63 500.35h2.25v13.66h-2.25zM693.27 509.46h2.25v10.24h-2.25zM694.9 484.42h2.25v18.21h-2.25zM696.54 506.04h2.25v15.93h-2.25zM698.17 507.18h2.25v9.11h-2.25zM699.81 493.52h2.25v13.66h-2.25zM701.44 495.8h2.25v14.8h-2.25zM703.08 488.97h2.25v20.49h-2.25zM704.71 492.38h2.25v13.66h-2.25zM706.35 499.21h2.25v11.38h-2.25zM707.99 496.94h2.25v6.83h-2.25zM709.62 508.32h2.25v10.24h-2.25zM711.26 487.83h2.25v14.8h-2.25zM712.89 509.46h2.25v6.83h-2.25zM714.53 492.38h2.25v9.11h-2.25zM716.16 503.76h2.25v7.97h-2.25zM717.8 507.18h2.25v12.52h-2.25zM719.43 508.32h2.25v9.11h-2.25zM721.07 520.84h2.25v7.97h-2.25zM722.7 523.11h2.25v5.69h-2.25zM724.34 519.7h2.25v3.41h-2.25zM725.98 494.66h2.25v7.97h-2.25zM727.61 508.32h2.25v5.69h-2.25zM729.25 525.39h2.25v6.83h-2.25zM730.88 527.67h2.25v3.41h-2.25zM732.52 528.8h2.25v3.41h-2.25zM734.15 523.11h2.25v6.83h-2.25zM735.79 520.84h2.25v6.83h-2.25zM737.42 528.8h2.25v4.55h-2.25zM739.06 527.67h2.25v6.83h-2.25zM740.69 528.8h2.25v4.55h-2.25zM742.33 526.53h2.25v3.41h-2.25zM743.97 528.8h2.25v4.55h-2.25zM745.6 511.73h2.25v10.24h-2.25zM747.24 527.67h2.25v6.83h-2.25zM748.87 529.94h2.25v3.41h-2.25zM750.51 526.53h2.25v2.28h-2.25zM752.14 528.8h2.25v6.83h-2.25zM753.78 532.22h2.25v2.28h-2.25zM755.41 528.8h2.25v4.55h-2.25zM757.05 535.63h2.25v3.41h-2.25zM758.69 518.56h2.25v7.97h-2.25zM760.32 516.28h2.25v11.38h-2.25zM761.96 519.7h2.25v6.83h-2.25z"/>
<path fill="#38C8DC" d="M104.49 542.18h2.25v1.7h-2.25zM145.38 539.9h2.25v1.7h-2.25zM147.01 541.04h2.25v1.7h-2.25zM151.92 541.04h2.25v1.7h-2.25zM153.55 536.77h2.25v2.28h-2.25zM155.19 539.9h2.25v1.7h-2.25zM168.27 539.9h2.25v1.7h-2.25zM171.54 541.04h2.25v1.7h-2.25zM173.18 541.04h2.25v1.7h-2.25zM174.81 542.18h2.25v1.7h-2.25zM176.45 539.9h2.25v1.7h-2.25zM178.09 538.77h2.25v1.7h-2.25zM179.72 542.18h2.25v1.7h-2.25zM187.9 542.18h2.25v1.7h-2.25zM189.53 542.18h2.25v1.7h-2.25zM222.24 537.91h2.25v2.28h-2.25zM225.52 537.91h2.25v2.28h-2.25zM227.15 539.9h2.25v1.7h-2.25zM228.79 541.04h2.25v1.7h-2.25zM230.42 538.77h2.25v1.7h-2.25zM232.06 539.05h2.25v2.28h-2.25zM233.69 537.91h2.25v2.28h-2.25zM235.33 536.77h2.25v3.41h-2.25zM236.96 529.94h2.25v3.41h-2.25zM238.6 537.91h2.25v2.28h-2.25zM240.23 537.63h2.25v1.7h-2.25zM241.87 535.63h2.25v3.41h-2.25zM243.51 539.05h2.25v2.28h-2.25zM245.14 527.67h2.25v5.69h-2.25zM246.78 534.49h2.25v2.28h-2.25zM248.41 531.08h2.25v3.41h-2.25zM250.05 539.9h2.25v1.7h-2.25zM251.68 535.63h2.25v4.55h-2.25zM253.32 532.22h2.25v3.41h-2.25zM254.95 534.49h2.25v4.55h-2.25zM256.59 536.77h2.25v2.28h-2.25zM258.22 537.91h2.25v3.41h-2.25zM259.86 533.36h2.25v5.69h-2.25zM261.5 536.77h2.25v2.28h-2.25zM263.13 529.94h2.25v5.69h-2.25zM264.77 542.18h2.25v1.7h-2.25zM266.4 537.63h2.25v1.7h-2.25zM268.04 539.9h2.25v1.7h-2.25zM271.31 541.04h2.25v1.7h-2.25zM272.94 542.18h2.25v1.7h-2.25zM274.58 541.04h2.25v1.7h-2.25zM276.22 539.9h2.25v1.7h-2.25zM277.85 542.18h2.25v1.7h-2.25zM281.12 541.04h2.25v1.7h-2.25zM284.39 541.04h2.25v1.7h-2.25zM286.03 542.18h2.25v1.7h-2.25zM295.84 537.91h2.25v2.28h-2.25zM297.48 542.18h2.25v1.7h-2.25zM299.11 542.18h2.25v1.7h-2.25zM308.93 541.04h2.25v1.7h-2.25zM325.28 541.04h2.25v1.7h-2.25zM326.92 541.04h2.25v1.7h-2.25zM328.55 541.04h2.25v1.7h-2.25zM330.19 541.04h2.25v1.7h-2.25zM331.82 542.18h2.25v1.7h-2.25zM335.09 541.04h2.25v1.7h-2.25zM338.36 542.18h2.25v1.7h-2.25zM353.08 539.9h2.25v1.7h-2.25zM372.71 539.9h2.25v1.7h-2.25zM379.25 539.9h2.25v1.7h-2.25zM380.89 534.21h2.25v1.7h-2.25zM382.52 538.77h2.25v1.7h-2.25zM387.43 537.63h2.25v1.7h-2.25zM390.7 536.49h2.25v1.7h-2.25zM392.34 537.63h2.25v1.7h-2.25zM393.97 538.77h2.25v1.7h-2.25zM397.24 538.77h2.25v1.7h-2.25zM400.51 539.9h2.25v1.7h-2.25zM407.05 533.08h2.25v1.7h-2.25zM408.69 529.94h2.25v2.28h-2.25zM410.33 531.08h2.25v2.28h-2.25zM411.96 527.67h2.25v3.41h-2.25zM413.6 536.49h2.25v1.7h-2.25zM415.23 537.63h2.25v1.7h-2.25zM416.87 538.77h2.25v1.7h-2.25zM418.5 538.77h2.25v1.7h-2.25zM420.14 534.21h2.25v1.7h-2.25zM421.77 536.77h2.25v2.28h-2.25zM423.41 536.49h2.25v1.7h-2.25zM425.05 537.91h2.25v2.28h-2.25zM426.68 539.9h2.25v1.7h-2.25zM431.59 537.63h2.25v1.7h-2.25zM434.86 539.9h2.25v1.7h-2.25zM438.13 537.63h2.25v1.7h-2.25zM439.76 530.8h2.25v1.7h-2.25zM441.4 535.35h2.25v1.7h-2.25zM443.04 528.8h2.25v2.28h-2.25zM444.67 534.49h2.25v2.28h-2.25zM446.31 538.77h2.25v1.7h-2.25zM447.94 537.63h2.25v1.7h-2.25zM449.58 538.77h2.25v1.7h-2.25zM451.21 538.77h2.25v1.7h-2.25zM452.85 536.49h2.25v1.7h-2.25zM454.48 536.49h2.25v1.7h-2.25zM456.12 537.63h2.25v1.7h-2.25zM459.39 533.08h2.25v1.7h-2.25zM461.03 539.9h2.25v1.7h-2.25zM462.66 538.77h2.25v1.7h-2.25zM464.3 539.9h2.25v1.7h-2.25zM465.93 539.9h2.25v1.7h-2.25zM467.57 537.63h2.25v1.7h-2.25zM470.84 536.49h2.25v1.7h-2.25zM472.47 537.63h2.25v1.7h-2.25zM474.11 535.35h2.25v1.7h-2.25zM475.75 538.77h2.25v1.7h-2.25zM477.38 539.9h2.25v1.7h-2.25zM480.65 539.9h2.25v1.7h-2.25zM482.29 539.9h2.25v1.7h-2.25zM485.56 539.9h2.25v1.7h-2.25zM487.19 534.49h2.25v2.28h-2.25zM488.83 536.49h2.25v1.7h-2.25zM492.1 535.35h2.25v1.7h-2.25zM493.74 538.77h2.25v1.7h-2.25zM495.37 537.63h2.25v1.7h-2.25zM497.01 535.35h2.25v1.7h-2.25zM498.64 531.08h2.25v4.55h-2.25zM500.28 536.49h2.25v1.7h-2.25zM501.91 533.08h2.25v1.7h-2.25zM503.55 532.22h2.25v2.28h-2.25zM505.18 534.49h2.25v2.28h-2.25zM508.46 534.49h2.25v2.28h-2.25zM510.09 537.63h2.25v1.7h-2.25zM511.73 532.22h2.25v2.28h-2.25zM513.36 529.66h2.25v1.7h-2.25zM515 524.25h2.25v3.41h-2.25zM516.63 527.67h2.25v3.41h-2.25zM518.27 523.11h2.25v2.28h-2.25zM519.9 523.11h2.25v2.28h-2.25zM521.54 528.8h2.25v2.28h-2.25zM523.17 532.22h2.25v2.28h-2.25zM524.81 524.25h2.25v4.55h-2.25zM526.45 534.21h2.25v1.7h-2.25zM528.08 529.94h2.25v2.28h-2.25zM529.72 531.08h2.25v2.28h-2.25zM531.35 525.39h2.25v3.41h-2.25zM532.99 519.7h2.25v4.55h-2.25zM534.62 529.94h2.25v3.41h-2.25zM536.26 526.25h2.25v1.7h-2.25zM537.89 531.94h2.25v1.7h-2.25zM539.53 526.53h2.25v2.28h-2.25zM541.16 531.08h2.25v2.28h-2.25zM542.8 516.28h2.25v4.55h-2.25zM544.44 527.38h2.25v1.7h-2.25zM546.07 509.46h2.25v5.69h-2.25zM547.71 525.39h2.25v3.41h-2.25zM549.34 503.76h2.25v7.97h-2.25zM550.98 519.7h2.25v5.69h-2.25zM552.61 507.18h2.25v4.55h-2.25zM554.25 503.76h2.25v4.55h-2.25zM555.88 498.07h2.25v5.69h-2.25zM557.52 491.24h2.25v10.24h-2.25zM559.16 494.66h2.25v13.66h-2.25zM560.79 482.14h2.25v7.97h-2.25zM562.43 501.49h2.25v5.69h-2.25zM564.06 486.69h2.25v12.52h-2.25zM565.7 470.76h2.25v18.21h-2.25zM567.33 460.51h2.25v26.18h-2.25zM568.97 399.05h2.25v40.97h-2.25zM570.6 443.44h2.25v27.32h-2.25zM572.24 424.09h2.25v30.73h-2.25zM573.87 426.37h2.25v31.87h-2.25zM575.51 402.47h2.25v36.42h-2.25zM577.15 370.6h2.25v43.25h-2.25zM578.78 361.49h2.25v54.63h-2.25zM580.42 413.85h2.25v46.66h-2.25zM582.05 404.74h2.25v48.94h-2.25zM583.69 436.61h2.25v39.84h-2.25zM585.32 414.99h2.25v27.32h-2.25zM586.96 409.3h2.25v36.42h-2.25zM588.59 401.33h2.25v61.46h-2.25zM590.23 381.98h2.25v66.01h-2.25zM591.87 444.58h2.25v43.25h-2.25zM593.5 418.4h2.25v68.29h-2.25zM595.14 466.21h2.25v17.07h-2.25zM596.77 449.13h2.25v23.9h-2.25zM598.41 490.11h2.25v12.52h-2.25zM600.04 409.3h2.25v30.73h-2.25zM601.68 434.34h2.25v18.21h-2.25zM603.31 433.2h2.25v30.73h-2.25zM604.95 435.48h2.25v33.01h-2.25zM606.58 476.45h2.25v18.21h-2.25zM608.22 414.99h2.25v34.14h-2.25zM609.86 479.86h2.25v23.9h-2.25zM611.49 430.92h2.25v33.01h-2.25zM613.13 438.89h2.25v36.42h-2.25zM614.76 459.38h2.25v23.9h-2.25zM616.4 427.51h2.25v31.87h-2.25zM618.03 471.9h2.25v21.62h-2.25zM619.67 417.26h2.25v45.53h-2.25zM621.3 420.68h2.25v34.14h-2.25zM622.94 387.67h2.25v42.11h-2.25zM624.57 451.41h2.25v29.59h-2.25zM626.21 420.68h2.25v33.01h-2.25zM627.85 462.79h2.25v13.66h-2.25zM629.48 473.03h2.25v18.21h-2.25zM631.12 486.69h2.25v18.21h-2.25zM632.75 502.63h2.25v5.69h-2.25zM634.39 469.62h2.25v14.8h-2.25zM636.02 466.21h2.25v10.24h-2.25zM637.66 481h2.25v21.62h-2.25zM639.29 474.17h2.25v20.49h-2.25zM640.93 490.11h2.25v11.38h-2.25zM642.57 486.69h2.25v10.24h-2.25zM644.2 482.14h2.25v14.8h-2.25zM645.84 465.07h2.25v9.11h-2.25zM647.47 491.24h2.25v10.24h-2.25zM649.11 486.69h2.25v18.21h-2.25zM650.74 488.97h2.25v19.35h-2.25zM652.38 491.24h2.25v9.11h-2.25zM654.01 494.66h2.25v17.07h-2.25zM655.65 474.17h2.25v14.8h-2.25zM657.28 462.79h2.25v19.35h-2.25zM658.92 471.9h2.25v17.07h-2.25zM660.56 502.63h2.25v5.69h-2.25zM662.19 502.63h2.25v13.66h-2.25zM663.83 474.17h2.25v13.66h-2.25zM665.46 494.66h2.25v7.97h-2.25zM667.1 482.14h2.25v12.52h-2.25zM668.73 425.23h2.25v31.87h-2.25zM670.37 438.89h2.25v29.59h-2.25zM672 408.16h2.25v42.11h-2.25zM673.64 428.65h2.25v40.97h-2.25zM675.28 473.03h2.25v31.87h-2.25zM676.91 455.96h2.25v15.93h-2.25zM678.55 483.28h2.25v18.21h-2.25zM680.18 438.89h2.25v19.35h-2.25zM681.82 410.44h2.25v37.56h-2.25zM683.45 412.71h2.25v43.25h-2.25zM685.09 475.31h2.25v11.38h-2.25zM686.72 452.55h2.25v31.87h-2.25zM688.36 493.52h2.25v9.11h-2.25zM689.99 426.37h2.25v29.59h-2.25zM691.63 483.28h2.25v17.07h-2.25zM693.27 485.55h2.25v23.9h-2.25zM694.9 454.82h2.25v29.59h-2.25zM696.54 488.97h2.25v17.07h-2.25zM698.17 495.8h2.25v11.38h-2.25zM699.81 482.14h2.25v11.38h-2.25zM701.44 465.07h2.25v30.73h-2.25zM703.08 479.86h2.25v9.11h-2.25zM704.71 477.59h2.25v14.8h-2.25zM706.35 478.73h2.25v20.49h-2.25zM707.99 477.59h2.25v19.35h-2.25zM709.62 503.76h2.25v4.55h-2.25zM711.26 477.59h2.25v10.24h-2.25zM712.89 491.24h2.25v18.21h-2.25zM714.53 478.73h2.25v13.66h-2.25zM716.16 498.07h2.25v5.69h-2.25zM717.8 500.35h2.25v6.83h-2.25zM719.43 501.49h2.25v6.83h-2.25zM721.07 510.59h2.25v10.24h-2.25zM722.7 518.56h2.25v4.55h-2.25zM724.34 503.76h2.25v15.93h-2.25zM725.98 484.42h2.25v10.24h-2.25zM727.61 499.21h2.25v9.11h-2.25zM729.25 521.98h2.25v3.41h-2.25zM730.88 516.28h2.25v11.38h-2.25zM732.52 518.56h2.25v10.24h-2.25zM734.15 516.28h2.25v6.83h-2.25zM735.79 509.46h2.25v11.38h-2.25zM737.42 525.39h2.25v3.41h-2.25zM739.06 519.7h2.25v7.97h-2.25zM740.69 521.98h2.25v6.83h-2.25zM742.33 521.98h2.25v4.55h-2.25zM743.97 525.39h2.25v3.41h-2.25zM745.6 506.04h2.25v5.69h-2.25zM747.24 520.84h2.25v6.83h-2.25zM748.87 521.98h2.25v7.97h-2.25zM750.51 518.56h2.25v7.97h-2.25zM752.14 523.11h2.25v5.69h-2.25zM753.78 527.67h2.25v4.55h-2.25zM755.41 526.53h2.25v2.28h-2.25zM757.05 532.22h2.25v3.41h-2.25zM758.69 511.73h2.25v6.83h-2.25zM760.32 504.9h2.25v11.38h-2.25zM761.96 510.59h2.25v9.11h-2.25z"/>
<path fill="#3377CF" d="M132.29 542.18h2.25v1.7h-2.25zM145.38 538.77h2.25v1.7h-2.25zM147.01 539.9h2.25v1.7h-2.25zM153.55 534.49h2.25v2.28h-2.25zM155.19 537.91h2.25v2.28h-2.25zM160.1 542.18h2.25v1.7h-2.25zM161.73 542.18h2.25v1.7h-2.25zM166.64 541.04h2.25v1.7h-2.25zM168.27 538.77h2.25v1.7h-2.25zM169.91 542.18h2.25v1.7h-2.25zM176.45 538.77h2.25v1.7h-2.25zM178.09 536.77h2.25v2.28h-2.25zM181.36 542.18h2.25v1.7h-2.25zM197.71 542.18h2.25v1.7h-2.25zM199.35 542.18h2.25v1.7h-2.25zM202.62 542.18h2.25v1.7h-2.25zM209.16 542.18h2.25v1.7h-2.25zM210.8 542.18h2.25v1.7h-2.25zM212.43 541.04h2.25v1.7h-2.25zM222.24 534.49h2.25v3.41h-2.25zM225.52 536.49h2.25v1.7h-2.25zM227.15 538.77h2.25v1.7h-2.25zM228.79 539.9h2.25v1.7h-2.25zM230.42 536.77h2.25v2.28h-2.25zM232.06 536.77h2.25v2.28h-2.25zM233.69 536.49h2.25v1.7h-2.25zM235.33 532.22h2.25v4.55h-2.25zM236.96 524.25h2.25v5.69h-2.25zM238.6 532.22h2.25v5.69h-2.25zM240.23 534.49h2.25v3.41h-2.25zM241.87 531.08h2.25v4.55h-2.25zM243.51 537.63h2.25v1.7h-2.25zM245.14 519.7h2.25v7.97h-2.25zM246.78 532.22h2.25v2.28h-2.25zM248.41 526.53h2.25v4.55h-2.25zM250.05 538.77h2.25v1.7h-2.25zM251.68 528.8h2.25v6.83h-2.25zM253.32 524.25h2.25v7.97h-2.25zM254.95 529.94h2.25v4.55h-2.25zM256.59 533.36h2.25v3.41h-2.25zM258.22 535.63h2.25v2.28h-2.25zM259.86 528.8h2.25v4.55h-2.25zM261.5 533.36h2.25v3.41h-2.25zM263.13 526.53h2.25v3.41h-2.25zM264.77 541.04h2.25v1.7h-2.25zM266.4 534.49h2.25v3.41h-2.25zM268.04 537.91h2.25v2.28h-2.25zM271.31 539.9h2.25v1.7h-2.25zM274.58 539.9h2.25v1.7h-2.25zM276.22 538.77h2.25v1.7h-2.25zM281.12 539.9h2.25v1.7h-2.25zM282.76 541.04h2.25v1.7h-2.25zM284.39 539.9h2.25v1.7h-2.25zM294.21 542.18h2.25v1.7h-2.25zM295.84 536.49h2.25v1.7h-2.25zM297.48 541.04h2.25v1.7h-2.25zM299.11 541.04h2.25v1.7h-2.25zM302.38 541.04h2.25v1.7h-2.25zM313.83 542.18h2.25v1.7h-2.25zM317.1 542.18h2.25v1.7h-2.25zM322.01 542.18h2.25v1.7h-2.25zM323.64 542.18h2.25v1.7h-2.25zM326.92 539.9h2.25v1.7h-2.25zM328.55 539.9h2.25v1.7h-2.25zM346.54 541.04h2.25v1.7h-2.25zM349.81 542.18h2.25v1.7h-2.25zM353.08 538.77h2.25v1.7h-2.25zM354.72 541.04h2.25v1.7h-2.25zM356.35 541.04h2.25v1.7h-2.25zM359.63 541.04h2.25v1.7h-2.25zM375.98 539.9h2.25v1.7h-2.25zM377.62 538.77h2.25v1.7h-2.25zM382.52 537.63h2.25v1.7h-2.25zM385.79 536.49h2.25v1.7h-2.25zM387.43 536.49h2.25v1.7h-2.25zM389.06 537.63h2.25v1.7h-2.25zM390.7 535.35h2.25v1.7h-2.25zM395.61 539.9h2.25v1.7h-2.25zM397.24 537.63h2.25v1.7h-2.25zM402.15 541.04h2.25v1.7h-2.25zM407.05 531.94h2.25v1.7h-2.25zM410.33 529.66h2.25v1.7h-2.25zM411.96 526.25h2.25v1.7h-2.25zM413.6 535.35h2.25v1.7h-2.25zM418.5 537.63h2.25v1.7h-2.25zM420.14 533.08h2.25v1.7h-2.25zM421.77 535.35h2.25v1.7h-2.25zM423.41 535.35h2.25v1.7h-2.25zM425.05 536.49h2.25v1.7h-2.25zM428.32 535.35h2.25v1.7h-2.25zM429.95 539.9h2.25v1.7h-2.25zM431.59 536.49h2.25v1.7h-2.25zM434.86 538.77h2.25v1.7h-2.25zM436.49 539.9h2.25v1.7h-2.25zM439.76 528.8h2.25v2.28h-2.25zM441.4 534.21h2.25v1.7h-2.25zM443.04 527.38h2.25v1.7h-2.25zM444.67 533.08h2.25v1.7h-2.25zM447.94 536.49h2.25v1.7h-2.25zM451.21 537.63h2.25v1.7h-2.25zM452.85 535.35h2.25v1.7h-2.25zM456.12 536.49h2.25v1.7h-2.25zM457.75 539.9h2.25v1.7h-2.25zM459.39 531.94h2.25v1.7h-2.25zM465.93 538.77h2.25v1.7h-2.25zM470.84 535.35h2.25v1.7h-2.25zM472.47 536.49h2.25v1.7h-2.25zM475.75 537.63h2.25v1.7h-2.25zM480.65 538.77h2.25v1.7h-2.25zM483.92 537.63h2.25v1.7h-2.25zM485.56 538.77h2.25v1.7h-2.25zM487.19 533.08h2.25v1.7h-2.25zM488.83 535.35h2.25v1.7h-2.25zM490.46 535.35h2.25v1.7h-2.25zM492.1 534.21h2.25v1.7h-2.25zM493.74 537.63h2.25v1.7h-2.25zM495.37 536.49h2.25v1.7h-2.25zM497.01 534.21h2.25v1.7h-2.25zM498.64 528.8h2.25v2.28h-2.25zM500.28 535.35h2.25v1.7h-2.25zM501.91 531.94h2.25v1.7h-2.25zM503.55 530.8h2.25v1.7h-2.25zM505.18 533.08h2.25v1.7h-2.25zM506.82 537.63h2.25v1.7h-2.25zM508.46 533.08h2.25v1.7h-2.25zM510.09 536.49h2.25v1.7h-2.25zM511.73 529.94h2.25v2.28h-2.25zM513.36 528.52h2.25v1.7h-2.25zM515 521.98h2.25v2.28h-2.25zM516.63 525.39h2.25v2.28h-2.25zM518.27 521.69h2.25v1.7h-2.25zM519.9 520.84h2.25v2.28h-2.25zM521.54 527.38h2.25v1.7h-2.25zM523.17 530.8h2.25v1.7h-2.25zM524.81 521.98h2.25v2.28h-2.25zM526.45 533.08h2.25v1.7h-2.25zM528.08 528.52h2.25v1.7h-2.25zM529.72 528.8h2.25v2.28h-2.25zM531.35 521.98h2.25v3.41h-2.25zM532.99 517.42h2.25v2.28h-2.25zM534.62 528.52h2.25v1.7h-2.25zM536.26 524.25h2.25v2.28h-2.25zM537.89 530.8h2.25v1.7h-2.25zM539.53 524.25h2.25v2.28h-2.25zM541.16 529.66h2.25v1.7h-2.25zM542.8 512.87h2.25v3.41h-2.25zM544.44 525.39h2.25v2.28h-2.25zM546.07 502.63h2.25v6.83h-2.25zM547.71 523.97h2.25v1.7h-2.25zM549.34 500.35h2.25v3.41h-2.25zM550.98 517.42h2.25v2.28h-2.25zM552.61 504.9h2.25v2.28h-2.25zM554.25 500.35h2.25v3.41h-2.25zM555.88 491.24h2.25v6.83h-2.25zM557.52 483.28h2.25v7.97h-2.25zM559.16 487.83h2.25v6.83h-2.25zM560.79 477.59h2.25v4.55h-2.25zM562.43 495.8h2.25v5.69h-2.25zM564.06 484.42h2.25v2.28h-2.25zM565.7 461.65h2.25v9.11h-2.25zM567.33 454.82h2.25v5.69h-2.25zM568.97 387.67h2.25v11.38h-2.25zM570.6 422.96h2.25v20.49h-2.25zM572.24 387.67h2.25v36.42h-2.25zM573.87 404.74h2.25v21.62h-2.25zM575.51 385.4h2.25v17.07h-2.25zM577.15 344.42h2.25v26.18h-2.25zM578.78 344.42h2.25v17.07h-2.25zM580.42 380.84h2.25v33.01h-2.25zM582.05 377.43h2.25v27.32h-2.25zM583.69 419.54h2.25v17.07h-2.25zM585.32 386.53h2.25v28.45h-2.25zM586.96 395.64h2.25v13.66h-2.25zM588.59 364.91h2.25v36.42h-2.25zM590.23 341.01h2.25v40.97h-2.25zM591.87 425.23h2.25v19.35h-2.25zM593.5 402.47h2.25v15.93h-2.25zM595.14 440.03h2.25v26.18h-2.25zM596.77 418.4h2.25v30.73h-2.25zM598.41 469.62h2.25v20.49h-2.25zM600.04 371.74h2.25v37.56h-2.25zM601.68 424.09h2.25v10.24h-2.25zM603.31 419.54h2.25v13.66h-2.25zM604.95 424.09h2.25v11.38h-2.25zM606.58 458.24h2.25v18.21h-2.25zM608.22 385.4h2.25v29.59h-2.25zM609.86 461.65h2.25v18.21h-2.25zM611.49 409.3h2.25v21.63h-2.25zM613.13 417.26h2.25v21.62h-2.25zM614.76 450.27h2.25v9.11h-2.25zM616.4 416.13h2.25v11.38h-2.25zM618.03 455.96h2.25v15.93h-2.25zM619.67 403.61h2.25v13.66h-2.25zM621.3 407.02h2.25v13.66h-2.25zM622.94 367.19h2.25v20.49h-2.25zM624.57 429.78h2.25v21.62h-2.25zM626.21 408.16h2.25v12.52h-2.25zM627.85 454.82h2.25v7.97h-2.25zM629.48 460.51h2.25v12.52h-2.25zM631.12 479.86h2.25v6.83h-2.25zM632.75 491.24h2.25v11.38h-2.25zM634.39 453.69h2.25v15.93h-2.25zM636.02 453.69h2.25v12.52h-2.25zM637.66 465.07h2.25v15.93h-2.25zM639.29 460.51h2.25v13.66h-2.25zM640.93 477.59h2.25v12.52h-2.25zM642.57 473.03h2.25v13.66h-2.25zM644.2 465.07h2.25v17.07h-2.25zM645.84 454.82h2.25v10.24h-2.25zM647.47 482.14h2.25v9.11h-2.25zM649.11 467.34h2.25v19.35h-2.25zM650.74 482.14h2.25v6.83h-2.25zM652.38 482.14h2.25v9.11h-2.25zM654.01 485.55h2.25v9.11h-2.25zM655.65 463.93h2.25v10.24h-2.25zM657.28 438.89h2.25v23.9h-2.25zM658.92 463.93h2.25v7.97h-2.25zM660.56 494.66h2.25v7.97h-2.25zM662.19 491.24h2.25v11.38h-2.25zM663.83 466.21h2.25v7.97h-2.25zM665.46 486.69h2.25v7.97h-2.25zM667.1 461.65h2.25v20.49h-2.25zM668.73 410.44h2.25v14.8h-2.25zM670.37 410.44h2.25v28.45h-2.25zM672 378.57h2.25v29.59h-2.25zM673.64 400.19h2.25v28.45h-2.25zM675.28 441.17h2.25v31.87h-2.25zM676.91 430.92h2.25v25.04h-2.25zM678.55 459.38h2.25v23.9h-2.25zM680.18 392.23h2.25v46.66h-2.25zM681.82 387.67h2.25v22.76h-2.25zM683.45 379.71h2.25v33.01h-2.25zM685.09 452.55h2.25v22.76h-2.25zM686.72 443.44h2.25v9.11h-2.25zM688.36 479.86h2.25v13.66h-2.25zM689.99 416.13h2.25v10.24h-2.25zM691.63 466.21h2.25v17.07h-2.25zM693.27 471.9h2.25v13.66h-2.25zM694.9 438.89h2.25v15.93h-2.25zM696.54 483.28h2.25v5.69h-2.25zM698.17 488.97h2.25v6.83h-2.25zM699.81 476.45h2.25v5.69h-2.25zM701.44 454.82h2.25v10.24h-2.25zM703.08 468.48h2.25v11.38h-2.25zM704.71 471.9h2.25v5.69h-2.25zM706.35 470.76h2.25v7.97h-2.25zM707.99 465.07h2.25v12.52h-2.25zM709.62 498.07h2.25v5.69h-2.25zM711.26 459.38h2.25v18.21h-2.25zM712.89 483.28h2.25v7.97h-2.25zM714.53 469.62h2.25v9.11h-2.25zM716.16 477.59h2.25v20.49h-2.25zM717.8 494.66h2.25v5.69h-2.25zM719.43 495.8h2.25v5.69h-2.25zM721.07 503.76h2.25v6.83h-2.25zM722.7 512.87h2.25v5.69h-2.25zM724.34 494.66h2.25v9.11h-2.25zM725.98 468.48h2.25v15.93h-2.25zM727.61 487.83h2.25v11.38h-2.25zM729.25 514.01h2.25v7.97h-2.25zM730.88 506.04h2.25v10.24h-2.25zM732.52 514.01h2.25v4.55h-2.25zM734.15 509.46h2.25v6.83h-2.25zM735.79 501.49h2.25v7.97h-2.25zM737.42 519.7h2.25v5.69h-2.25zM739.06 514.01h2.25v5.69h-2.25zM740.69 519.7h2.25v2.28h-2.25zM742.33 512.87h2.25v9.11h-2.25zM743.97 521.98h2.25v3.41h-2.25zM745.6 500.35h2.25v5.69h-2.25zM747.24 514.01h2.25v6.83h-2.25zM748.87 517.42h2.25v4.55h-2.25zM750.51 515.15h2.25v3.41h-2.25zM752.14 518.56h2.25v4.55h-2.25zM753.78 524.25h2.25v3.41h-2.25zM755.41 524.25h2.25v2.28h-2.25zM757.05 525.39h2.25v6.83h-2.25zM758.69 501.49h2.25v10.24h-2.25zM760.32 501.49h2.25v3.41h-2.25zM761.96 499.21h2.25v11.38h-2.25z"/>
<path fill="#3A30BE" d="M145.38 537.63h2.25v1.7h-2.25zM147.01 538.77h2.25v1.7h-2.25zM150.28 542.18h2.25v1.7h-2.25zM153.55 532.22h2.25v2.28h-2.25zM155.19 536.49h2.25v1.7h-2.25zM156.82 542.18h2.25v1.7h-2.25zM158.46 542.18h2.25v1.7h-2.25zM160.1 541.04h2.25v1.7h-2.25zM163.37 542.18h2.25v1.7h-2.25zM166.64 539.9h2.25v1.7h-2.25zM171.54 539.9h2.25v1.7h-2.25zM173.18 539.9h2.25v1.7h-2.25zM176.45 537.63h2.25v1.7h-2.25zM178.09 534.49h2.25v2.28h-2.25zM182.99 542.18h2.25v1.7h-2.25zM199.35 541.04h2.25v1.7h-2.25zM209.16 541.04h2.25v1.7h-2.25zM210.8 541.04h2.25v1.7h-2.25zM214.07 542.18h2.25v1.7h-2.25zM215.7 542.18h2.25v1.7h-2.25zM222.24 533.08h2.25v1.7h-2.25zM223.88 539.9h2.25v1.7h-2.25zM225.52 535.35h2.25v1.7h-2.25zM227.15 537.63h2.25v1.7h-2.25zM228.79 538.77h2.25v1.7h-2.25zM230.42 533.36h2.25v3.41h-2.25zM232.06 532.22h2.25v4.55h-2.25zM233.69 535.35h2.25v1.7h-2.25zM235.33 525.39h2.25v6.83h-2.25zM236.96 520.84h2.25v3.41h-2.25zM238.6 528.8h2.25v3.41h-2.25zM240.23 532.22h2.25v2.28h-2.25zM241.87 527.67h2.25v3.41h-2.25zM243.51 536.49h2.25v1.7h-2.25zM245.14 514.01h2.25v5.69h-2.25zM246.78 529.94h2.25v2.28h-2.25zM248.41 524.25h2.25v2.28h-2.25zM250.05 537.63h2.25v1.7h-2.25zM251.68 524.25h2.25v4.55h-2.25zM253.32 519.7h2.25v4.55h-2.25zM254.95 526.53h2.25v3.41h-2.25zM256.59 524.25h2.25v9.11h-2.25zM258.22 532.22h2.25v3.41h-2.25zM259.86 524.25h2.25v4.55h-2.25zM261.5 528.8h2.25v4.55h-2.25zM263.13 520.84h2.25v5.69h-2.25zM266.4 532.22h2.25v2.28h-2.25zM268.04 536.49h2.25v1.7h-2.25zM269.67 542.18h2.25v1.7h-2.25zM271.31 538.77h2.25v1.7h-2.25zM272.94 541.04h2.25v1.7h-2.25zM274.58 538.77h2.25v1.7h-2.25zM276.22 536.77h2.25v2.28h-2.25zM279.49 542.18h2.25v1.7h-2.25zM284.39 538.77h2.25v1.7h-2.25zM286.03 541.04h2.25v1.7h-2.25zM294.21 541.04h2.25v1.7h-2.25zM295.84 535.35h2.25v1.7h-2.25zM297.48 539.9h2.25v1.7h-2.25zM299.11 539.9h2.25v1.7h-2.25zM304.02 541.04h2.25v1.7h-2.25zM307.29 542.18h2.25v1.7h-2.25zM308.93 539.9h2.25v1.7h-2.25zM310.56 542.18h2.25v1.7h-2.25zM315.47 542.18h2.25v1.7h-2.25zM317.1 541.04h2.25v1.7h-2.25zM318.74 542.18h2.25v1.7h-2.25zM326.92 538.77h2.25v1.7h-2.25zM331.82 541.04h2.25v1.7h-2.25zM333.46 542.18h2.25v1.7h-2.25zM340 542.18h2.25v1.7h-2.25zM346.54 539.9h2.25v1.7h-2.25zM348.18 542.18h2.25v1.7h-2.25zM349.81 541.04h2.25v1.7h-2.25zM351.45 542.18h2.25v1.7h-2.25zM353.08 537.63h2.25v1.7h-2.25zM354.72 539.9h2.25v1.7h-2.25zM357.99 541.04h2.25v1.7h-2.25zM359.63 539.9h2.25v1.7h-2.25zM380.89 533.08h2.25v1.7h-2.25zM390.7 534.21h2.25v1.7h-2.25zM400.51 538.77h2.25v1.7h-2.25zM410.33 528.52h2.25v1.7h-2.25zM411.96 525.11h2.25v1.7h-2.25zM415.23 536.49h2.25v1.7h-2.25zM418.5 536.49h2.25v1.7h-2.25zM420.14 531.94h2.25v1.7h-2.25zM421.77 534.21h2.25v1.7h-2.25zM423.41 534.21h2.25v1.7h-2.25zM425.05 535.35h2.25v1.7h-2.25zM428.32 534.21h2.25v1.7h-2.25zM431.59 535.35h2.25v1.7h-2.25zM434.86 537.63h2.25v1.7h-2.25zM438.13 536.49h2.25v1.7h-2.25zM439.76 527.38h2.25v1.7h-2.25zM443.04 526.25h2.25v1.7h-2.25zM444.67 531.94h2.25v1.7h-2.25zM451.21 536.49h2.25v1.7h-2.25zM452.85 534.21h2.25v1.7h-2.25zM454.48 535.35h2.25v1.7h-2.25zM459.39 530.8h2.25v1.7h-2.25zM465.93 537.63h2.25v1.7h-2.25zM470.84 534.21h2.25v1.7h-2.25zM472.47 535.35h2.25v1.7h-2.25zM487.19 531.94h2.25v1.7h-2.25zM495.37 535.35h2.25v1.7h-2.25zM497.01 533.08h2.25v1.7h-2.25zM498.64 526.53h2.25v2.28h-2.25zM500.28 534.21h2.25v1.7h-2.25zM501.91 530.8h2.25v1.7h-2.25zM503.55 529.66h2.25v1.7h-2.25zM505.18 531.94h2.25v1.7h-2.25zM508.46 531.94h2.25v1.7h-2.25zM511.73 528.52h2.25v1.7h-2.25zM513.36 527.38h2.25v1.7h-2.25zM515 519.7h2.25v2.28h-2.25zM516.63 523.97h2.25v1.7h-2.25zM518.27 519.7h2.25v2.28h-2.25zM519.9 519.42h2.25v1.7h-2.25zM521.54 526.25h2.25v1.7h-2.25zM523.17 529.66h2.25v1.7h-2.25zM524.81 520.56h2.25v1.7h-2.25zM526.45 531.94h2.25v1.7h-2.25zM528.08 527.38h2.25v1.7h-2.25zM529.72 527.38h2.25v1.7h-2.25zM531.35 520.56h2.25v1.7h-2.25zM532.99 516h2.25v1.7h-2.25zM534.62 527.38h2.25v1.7h-2.25zM536.26 521.98h2.25v2.28h-2.25zM539.53 522.83h2.25v1.7h-2.25zM541.16 528.52h2.25v1.7h-2.25zM542.8 510.59h2.25v2.28h-2.25zM544.44 523.11h2.25v2.28h-2.25zM546.07 499.21h2.25v3.41h-2.25zM547.71 522.83h2.25v1.7h-2.25zM549.34 498.07h2.25v2.28h-2.25zM550.98 516h2.25v1.7h-2.25zM552.61 503.48h2.25v1.7h-2.25zM554.25 498.07h2.25v2.28h-2.25zM555.88 489.83h2.25v1.7h-2.25zM557.52 475.31h2.25v7.97h-2.25zM559.16 482.14h2.25v5.69h-2.25zM560.79 471.9h2.25v5.69h-2.25zM562.43 493.52h2.25v2.28h-2.25zM564.06 479.86h2.25v4.55h-2.25zM565.7 453.69h2.25v7.97h-2.25zM567.33 441.17h2.25v13.66h-2.25zM568.97 375.15h2.25v12.52h-2.25zM570.6 408.16h2.25v14.8h-2.25zM572.24 356.94h2.25v30.73h-2.25zM573.87 393.36h2.25v11.38h-2.25zM575.51 378.57h2.25v6.83h-2.25zM577.15 322.8h2.25v21.62h-2.25zM578.78 333.04h2.25v11.38h-2.25zM580.42 355.8h2.25v25.04h-2.25zM582.05 348.98h2.25v28.45h-2.25zM583.69 399.05h2.25v20.49h-2.25zM585.32 375.15h2.25v11.38h-2.25zM586.96 370.6h2.25v25.04h-2.25zM588.59 331.9h2.25v33.01h-2.25zM590.23 320.52h2.25v20.49h-2.25zM591.87 394.5h2.25v30.73h-2.25zM593.5 363.77h2.25v38.7h-2.25zM595.14 399.05h2.25v40.97h-2.25zM596.77 399.05h2.25v19.35h-2.25zM598.41 445.72h2.25v23.9h-2.25zM600.04 338.73h2.25v33.01h-2.25zM601.68 391.09h2.25v33.01h-2.25zM603.31 392.23h2.25v27.32h-2.25zM604.95 407.02h2.25v17.07h-2.25zM606.58 447.99h2.25v10.24h-2.25zM608.22 371.74h2.25v13.66h-2.25zM609.86 440.03h2.25v21.62h-2.25zM611.49 386.53h2.25v22.76h-2.25zM613.13 393.36h2.25v23.9h-2.25zM614.76 435.48h2.25v14.8h-2.25zM616.4 403.61h2.25v12.52h-2.25zM618.03 441.17h2.25v14.8h-2.25zM619.67 391.09h2.25v12.52h-2.25zM621.3 388.81h2.25v18.21h-2.25zM622.94 355.8h2.25v11.38h-2.25zM624.57 409.3h2.25v20.49h-2.25zM626.21 401.33h2.25v6.83h-2.25zM627.85 442.3h2.25v12.52h-2.25zM629.48 450.27h2.25v10.24h-2.25zM631.12 468.48h2.25v11.38h-2.25zM632.75 481h2.25v10.24h-2.25zM634.39 442.3h2.25v11.38h-2.25zM636.02 444.58h2.25v9.11h-2.25zM637.66 457.1h2.25v7.97h-2.25zM639.29 452.55h2.25v7.97h-2.25zM640.93 467.34h2.25v10.24h-2.25zM642.57 465.07h2.25v7.97h-2.25zM644.2 454.82h2.25v10.24h-2.25zM645.84 449.13h2.25v5.69h-2.25zM647.47 478.73h2.25v3.41h-2.25zM649.11 460.51h2.25v6.83h-2.25zM650.74 478.73h2.25v3.41h-2.25zM652.38 475.31h2.25v6.83h-2.25zM654.01 477.59h2.25v7.97h-2.25zM655.65 458.24h2.25v5.69h-2.25zM657.28 429.78h2.25v9.11h-2.25zM658.92 459.38h2.25v4.55h-2.25zM660.56 486.69h2.25v7.97h-2.25zM662.19 485.55h2.25v5.69h-2.25zM663.83 463.93h2.25v2.28h-2.25zM665.46 483.28h2.25v3.41h-2.25zM667.1 455.96h2.25v5.69h-2.25zM668.73 407.02h2.25v3.41h-2.25zM670.37 395.64h2.25v14.8h-2.25zM672 364.91h2.25v13.66h-2.25zM673.64 387.67h2.25v12.52h-2.25zM675.28 434.34h2.25v6.83h-2.25zM676.91 427.51h2.25v3.41h-2.25zM678.55 452.55h2.25v6.83h-2.25zM680.18 386.53h2.25v5.69h-2.25zM681.82 379.71h2.25v7.97h-2.25zM683.45 374.01h2.25v5.69h-2.25zM685.09 449.13h2.25v3.41h-2.25zM686.72 436.61h2.25v6.83h-2.25zM688.36 474.17h2.25v5.69h-2.25zM689.99 410.44h2.25v5.69h-2.25zM691.63 460.51h2.25v5.69h-2.25zM693.27 462.79h2.25v9.11h-2.25zM694.9 427.51h2.25v11.38h-2.25zM696.54 475.31h2.25v7.97h-2.25zM698.17 478.73h2.25v10.24h-2.25zM699.81 467.34h2.25v9.11h-2.25zM701.44 450.27h2.25v4.55h-2.25zM703.08 460.51h2.25v7.97h-2.25zM704.71 463.93h2.25v7.97h-2.25zM706.35 461.65h2.25v9.11h-2.25zM707.99 460.51h2.25v4.55h-2.25zM709.62 493.52h2.25v4.55h-2.25zM711.26 449.13h2.25v10.24h-2.25zM712.89 475.31h2.25v7.97h-2.25zM714.53 457.1h2.25v12.52h-2.25zM716.16 470.76h2.25v6.83h-2.25zM717.8 491.24h2.25v3.41h-2.25zM719.43 492.38h2.25v3.41h-2.25zM721.07 500.35h2.25v3.41h-2.25zM722.7 511.45h2.25v1.7h-2.25zM724.34 491.24h2.25v3.41h-2.25zM725.98 458.24h2.25v10.24h-2.25zM727.61 481h2.25v6.83h-2.25zM729.25 510.59h2.25v3.41h-2.25zM730.88 502.63h2.25v3.41h-2.25zM732.52 509.46h2.25v4.55h-2.25zM734.15 503.76h2.25v5.69h-2.25zM735.79 499.21h2.25v2.28h-2.25zM737.42 517.42h2.25v2.28h-2.25zM739.06 509.46h2.25v4.55h-2.25zM740.69 517.42h2.25v2.28h-2.25zM742.33 507.18h2.25v5.69h-2.25zM743.97 518.56h2.25v3.41h-2.25zM745.6 494.66h2.25v5.69h-2.25zM747.24 512.59h2.25v1.7h-2.25zM748.87 512.87h2.25v4.55h-2.25zM750.51 511.73h2.25v3.41h-2.25zM752.14 516.28h2.25v2.28h-2.25zM753.78 522.83h2.25v1.7h-2.25zM755.41 522.83h2.25v1.7h-2.25zM757.05 523.11h2.25v2.28h-2.25zM758.69 495.8h2.25v5.69h-2.25zM760.32 498.07h2.25v3.41h-2.25zM761.96 492.38h2.25v6.83h-2.25z"/>
<path fill="#6E2BA5" d="M140.47 542.18h2.25v1.7h-2.25zM145.38 536.49h2.25v1.7h-2.25zM147.01 537.63h2.25v1.7h-2.25zM148.65 542.18h2.25v1.7h-2.25zM153.55 530.8h2.25v1.7h-2.25zM155.19 534.49h2.25v2.28h-2.25zM156.82 541.04h2.25v1.7h-2.25zM166.64 538.77h2.25v1.7h-2.25zM168.27 537.63h2.25v1.7h-2.25zM169.91 541.04h2.25v1.7h-2.25zM173.18 538.77h2.25v1.7h-2.25zM174.81 541.04h2.25v1.7h-2.25zM176.45 536.49h2.25v1.7h-2.25zM178.09 532.22h2.25v2.28h-2.25zM179.72 541.04h2.25v1.7h-2.25zM187.9 541.04h2.25v1.7h-2.25zM191.17 542.18h2.25v1.7h-2.25zM192.81 542.18h2.25v1.7h-2.25zM196.08 542.18h2.25v1.7h-2.25zM202.62 541.04h2.25v1.7h-2.25zM205.89 542.18h2.25v1.7h-2.25zM209.16 539.9h2.25v1.7h-2.25zM217.34 542.18h2.25v1.7h-2.25zM222.24 531.94h2.25v1.7h-2.25zM223.88 538.77h2.25v1.7h-2.25zM225.52 532.22h2.25v3.41h-2.25zM227.15 535.63h2.25v2.28h-2.25zM228.79 537.63h2.25v1.7h-2.25zM230.42 528.8h2.25v4.55h-2.25zM232.06 528.8h2.25v3.41h-2.25zM233.69 532.22h2.25v3.41h-2.25zM235.33 518.56h2.25v6.83h-2.25zM236.96 511.73h2.25v9.11h-2.25zM238.6 523.11h2.25v5.69h-2.25zM240.23 529.94h2.25v2.28h-2.25zM241.87 526.25h2.25v1.7h-2.25zM243.51 534.49h2.25v2.28h-2.25zM245.14 502.63h2.25v11.38h-2.25zM246.78 527.67h2.25v2.28h-2.25zM248.41 518.56h2.25v5.69h-2.25zM250.05 535.63h2.25v2.28h-2.25zM251.68 517.42h2.25v6.83h-2.25zM253.32 512.87h2.25v6.83h-2.25zM254.95 524.25h2.25v2.28h-2.25zM256.59 512.87h2.25v11.38h-2.25zM258.22 526.53h2.25v5.69h-2.25zM259.86 519.7h2.25v4.55h-2.25zM261.5 524.25h2.25v4.55h-2.25zM263.13 517.42h2.25v3.41h-2.25zM264.77 539.05h2.25v2.28h-2.25zM266.4 528.8h2.25v3.41h-2.25zM268.04 535.35h2.25v1.7h-2.25zM271.31 536.77h2.25v2.28h-2.25zM272.94 539.9h2.25v1.7h-2.25zM274.58 537.63h2.25v1.7h-2.25zM276.22 534.49h2.25v2.28h-2.25zM277.85 541.04h2.25v1.7h-2.25zM281.12 538.77h2.25v1.7h-2.25zM282.76 539.9h2.25v1.7h-2.25zM287.66 542.18h2.25v1.7h-2.25zM294.21 539.9h2.25v1.7h-2.25zM295.84 533.36h2.25v2.28h-2.25zM297.48 538.77h2.25v1.7h-2.25zM299.11 538.77h2.25v1.7h-2.25zM300.75 542.18h2.25v1.7h-2.25zM302.38 539.9h2.25v1.7h-2.25zM305.65 542.18h2.25v1.7h-2.25zM307.29 541.04h2.25v1.7h-2.25zM310.56 541.04h2.25v1.7h-2.25zM317.1 539.9h2.25v1.7h-2.25zM322.01 541.04h2.25v1.7h-2.25zM325.28 539.9h2.25v1.7h-2.25zM326.92 537.63h2.25v1.7h-2.25zM328.55 538.77h2.25v1.7h-2.25zM330.19 539.05h2.25v2.28h-2.25zM331.82 539.9h2.25v1.7h-2.25zM344.91 542.18h2.25v1.7h-2.25zM346.54 538.77h2.25v1.7h-2.25zM348.18 541.04h2.25v1.7h-2.25zM351.45 541.04h2.25v1.7h-2.25zM353.08 536.49h2.25v1.7h-2.25zM354.72 537.91h2.25v2.28h-2.25zM356.35 539.9h2.25v1.7h-2.25zM357.99 539.9h2.25v1.7h-2.25zM380.89 531.94h2.25v1.7h-2.25zM385.79 535.35h2.25v1.7h-2.25zM408.69 528.52h2.25v1.7h-2.25zM410.33 527.38h2.25v1.7h-2.25zM416.87 537.63h2.25v1.7h-2.25zM420.14 530.8h2.25v1.7h-2.25zM425.05 534.21h2.25v1.7h-2.25zM431.59 534.21h2.25v1.7h-2.25zM439.76 526.25h2.25v1.7h-2.25zM452.85 533.08h2.25v1.7h-2.25zM487.19 530.8h2.25v1.7h-2.25zM500.28 533.08h2.25v1.7h-2.25zM511.73 527.38h2.25v1.7h-2.25zM513.36 526.25h2.25v1.7h-2.25zM515 518.28h2.25v1.7h-2.25zM518.27 518.28h2.25v1.7h-2.25zM519.9 518.28h2.25v1.7h-2.25zM521.54 525.11h2.25v1.7h-2.25zM523.17 528.52h2.25v1.7h-2.25zM528.08 526.25h2.25v1.7h-2.25zM529.72 526.25h2.25v1.7h-2.25zM531.35 519.42h2.25v1.7h-2.25zM532.99 514.87h2.25v1.7h-2.25zM534.62 526.25h2.25v1.7h-2.25zM536.26 520.56h2.25v1.7h-2.25zM537.89 529.66h2.25v1.7h-2.25zM539.53 521.69h2.25v1.7h-2.25zM541.16 527.38h2.25v1.7h-2.25zM542.8 509.17h2.25v1.7h-2.25zM544.44 521.69h2.25v1.7h-2.25zM546.07 497.79h2.25v1.7h-2.25zM549.34 496.65h2.25v1.7h-2.25zM550.98 514.87h2.25v1.7h-2.25zM552.61 502.35h2.25v1.7h-2.25zM554.25 496.65h2.25v1.7h-2.25zM555.88 487.83h2.25v2.28h-2.25zM557.52 470.76h2.25v4.55h-2.25zM559.16 479.86h2.25v2.28h-2.25zM560.79 469.62h2.25v2.28h-2.25zM562.43 490.11h2.25v3.41h-2.25zM564.06 476.45h2.25v3.41h-2.25zM565.7 450.27h2.25v3.41h-2.25zM567.33 435.48h2.25v5.69h-2.25zM568.97 366.05h2.25v9.11h-2.25zM570.6 401.33h2.25v6.83h-2.25zM572.24 347.84h2.25v9.11h-2.25zM573.87 383.12h2.25v10.24h-2.25zM575.51 368.32h2.25v10.24h-2.25zM577.15 313.69h2.25v9.11h-2.25zM578.78 318.24h2.25v14.8h-2.25zM580.42 344.42h2.25v11.38h-2.25zM582.05 338.73h2.25v10.24h-2.25zM583.69 386.53h2.25v12.52h-2.25zM585.32 363.77h2.25v11.38h-2.25zM586.96 338.73h2.25v31.87h-2.25zM588.59 303.45h2.25v28.45h-2.25zM590.23 279.55h2.25v40.97h-2.25zM591.87 364.91h2.25v29.59h-2.25zM593.5 337.59h2.25v26.18h-2.25zM595.14 370.6h2.25v28.45h-2.25zM596.77 369.46h2.25v29.59h-2.25zM598.41 413.85h2.25v31.87h-2.25zM600.04 321.66h2.25v17.07h-2.25zM601.68 354.67h2.25v36.42h-2.25zM603.31 367.19h2.25v25.04h-2.25zM604.95 375.15h2.25v31.87h-2.25zM606.58 419.54h2.25v28.45h-2.25zM608.22 361.49h2.25v10.24h-2.25zM609.86 414.99h2.25v25.04h-2.25zM611.49 362.63h2.25v23.9h-2.25zM613.13 367.19h2.25v26.18h-2.25zM614.76 410.44h2.25v25.04h-2.25zM616.4 392.23h2.25v11.38h-2.25zM618.03 435.48h2.25v5.69h-2.25zM619.67 383.12h2.25v7.97h-2.25zM621.3 376.29h2.25v12.52h-2.25zM622.94 345.56h2.25v10.24h-2.25zM624.57 394.5h2.25v14.8h-2.25zM626.21 388.81h2.25v12.52h-2.25zM627.85 424.09h2.25v18.21h-2.25zM629.48 443.44h2.25v6.83h-2.25zM631.12 459.38h2.25v9.11h-2.25zM632.75 475.31h2.25v5.69h-2.25zM634.39 432.06h2.25v10.24h-2.25zM636.02 438.89h2.25v5.69h-2.25zM637.66 447.99h2.25v9.11h-2.25zM639.29 440.03h2.25v12.52h-2.25zM640.93 457.1h2.25v10.24h-2.25zM642.57 455.96h2.25v9.11h-2.25zM644.2 451.41h2.25v3.41h-2.25zM645.84 444.58h2.25v4.55h-2.25zM647.47 469.62h2.25v9.11h-2.25zM649.11 449.13h2.25v11.38h-2.25zM650.74 475.31h2.25v3.41h-2.25zM652.38 469.62h2.25v5.69h-2.25zM654.01 470.76h2.25v6.83h-2.25zM655.65 450.27h2.25v7.97h-2.25zM657.28 418.4h2.25v11.38h-2.25zM658.92 455.96h2.25v3.41h-2.25zM660.56 479.86h2.25v6.83h-2.25zM662.19 481h2.25v4.55h-2.25zM663.83 459.38h2.25v4.55h-2.25zM665.46 479.86h2.25v3.41h-2.25zM667.1 451.41h2.25v4.55h-2.25zM668.73 397.92h2.25v9.11h-2.25zM670.37 388.81h2.25v6.83h-2.25zM672 360.36h2.25v4.55h-2.25zM673.64 380.84h2.25v6.83h-2.25zM675.28 425.23h2.25v9.11h-2.25zM676.91 422.96h2.25v4.55h-2.25zM678.55 447.99h2.25v4.55h-2.25zM680.18 378.57h2.25v7.97h-2.25zM681.82 367.19h2.25v12.52h-2.25zM683.45 370.6h2.25v3.41h-2.25zM685.09 445.72h2.25v3.41h-2.25zM686.72 429.78h2.25v6.83h-2.25zM688.36 468.48h2.25v5.69h-2.25zM689.99 405.88h2.25v4.55h-2.25zM691.63 453.69h2.25v6.83h-2.25zM693.27 455.96h2.25v6.83h-2.25zM694.9 424.09h2.25v3.41h-2.25zM696.54 467.34h2.25v7.97h-2.25zM698.17 469.62h2.25v9.11h-2.25zM699.81 460.51h2.25v6.83h-2.25zM701.44 442.3h2.25v7.97h-2.25zM703.08 447.99h2.25v12.52h-2.25zM704.71 458.24h2.25v5.69h-2.25zM706.35 453.69h2.25v7.97h-2.25zM707.99 455.96h2.25v4.55h-2.25zM709.62 490.11h2.25v3.41h-2.25zM711.26 443.44h2.25v5.69h-2.25zM712.89 468.48h2.25v6.83h-2.25zM714.53 449.13h2.25v7.97h-2.25zM716.16 462.79h2.25v7.97h-2.25zM717.8 484.42h2.25v6.83h-2.25zM719.43 487.83h2.25v4.55h-2.25zM721.07 498.07h2.25v2.28h-2.25zM722.7 508.32h2.25v3.41h-2.25zM724.34 487.83h2.25v3.41h-2.25zM725.98 453.69h2.25v4.55h-2.25zM727.61 475.31h2.25v5.69h-2.25zM729.25 509.17h2.25v1.7h-2.25zM730.88 498.07h2.25v4.55h-2.25zM732.52 504.9h2.25v4.55h-2.25zM734.15 501.49h2.25v2.28h-2.25zM735.79 494.66h2.25v4.55h-2.25zM737.42 515.15h2.25v2.28h-2.25zM739.06 506.04h2.25v3.41h-2.25zM740.69 515.15h2.25v2.28h-2.25zM742.33 504.9h2.25v2.28h-2.25zM743.97 517.14h2.25v1.7h-2.25zM745.6 488.97h2.25v5.69h-2.25zM747.24 510.59h2.25v2.28h-2.25zM748.87 510.59h2.25v2.28h-2.25zM750.51 510.31h2.25v1.7h-2.25zM752.14 514.01h2.25v2.28h-2.25zM753.78 521.69h2.25v1.7h-2.25zM755.41 520.84h2.25v2.28h-2.25zM757.05 521.69h2.25v1.7h-2.25zM758.69 492.38h2.25v3.41h-2.25zM760.32 492.38h2.25v5.69h-2.25zM761.96 488.97h2.25v3.41h-2.25z"/>
<path fill="#93278F" d="M138.83 542.18h2.25v1.7h-2.25zM140.47 541.04h2.25v1.7h-2.25zM142.1 542.18h2.25v1.7h-2.25zM143.74 542.18h2.25v1.7h-2.25zM145.38 535.35h2.25v1.7h-2.25zM147.01 536.49h2.25v1.7h-2.25zM151.92 539.9h2.25v1.7h-2.25zM153.55 529.66h2.25v1.7h-2.25zM155.19 532.22h2.25v2.28h-2.25zM161.73 541.04h2.25v1.7h-2.25zM165 542.18h2.25v1.7h-2.25zM168.27 535.63h2.25v2.28h-2.25zM169.91 539.9h2.25v1.7h-2.25zM171.54 538.77h2.25v1.7h-2.25zM173.18 537.63h2.25v1.7h-2.25zM176.45 534.49h2.25v2.28h-2.25zM178.09 529.94h2.25v2.28h-2.25zM182.99 541.04h2.25v1.7h-2.25zM184.63 542.18h2.25v1.7h-2.25zM186.26 542.18h2.25v1.7h-2.25zM194.44 542.18h2.25v1.7h-2.25zM197.71 541.04h2.25v1.7h-2.25zM200.98 542.18h2.25v1.7h-2.25zM207.52 542.18h2.25v1.7h-2.25zM212.43 539.9h2.25v1.7h-2.25zM214.07 541.04h2.25v1.7h-2.25zM218.97 542.18h2.25v1.7h-2.25zM220.61 542.18h2.25v1.7h-2.25zM222.24 528.8h2.25v3.41h-2.25zM225.52 528.8h2.25v3.41h-2.25zM227.15 533.36h2.25v2.28h-2.25zM228.79 536.49h2.25v1.7h-2.25zM230.42 526.53h2.25v2.28h-2.25zM232.06 524.25h2.25v4.55h-2.25zM233.69 528.8h2.25v3.41h-2.25zM235.33 510.59h2.25v7.97h-2.25zM236.96 508.32h2.25v3.41h-2.25zM238.6 519.7h2.25v3.41h-2.25zM240.23 527.67h2.25v2.28h-2.25zM241.87 523.11h2.25v3.41h-2.25zM243.51 532.22h2.25v2.28h-2.25zM245.14 498.07h2.25v4.55h-2.25zM246.78 521.98h2.25v5.69h-2.25zM248.41 509.46h2.25v9.11h-2.25zM250.05 532.22h2.25v3.41h-2.25zM251.68 509.46h2.25v7.97h-2.25zM253.32 508.32h2.25v4.55h-2.25zM254.95 518.56h2.25v5.69h-2.25zM256.59 502.63h2.25v10.24h-2.25zM258.22 523.11h2.25v3.41h-2.25zM259.86 512.87h2.25v6.83h-2.25zM261.5 519.7h2.25v4.55h-2.25zM263.13 514.01h2.25v3.41h-2.25zM264.77 536.77h2.25v2.28h-2.25zM266.4 521.98h2.25v6.83h-2.25zM268.04 532.22h2.25v3.41h-2.25zM269.67 541.04h2.25v1.7h-2.25zM271.31 534.49h2.25v2.28h-2.25zM272.94 537.91h2.25v2.28h-2.25zM274.58 534.49h2.25v3.41h-2.25zM276.22 532.22h2.25v2.28h-2.25zM277.85 539.9h2.25v1.7h-2.25zM279.49 541.04h2.25v1.7h-2.25zM281.12 536.77h2.25v2.28h-2.25zM282.76 538.77h2.25v1.7h-2.25zM284.39 536.77h2.25v2.28h-2.25zM286.03 539.9h2.25v1.7h-2.25zM289.3 542.18h2.25v1.7h-2.25zM290.93 542.18h2.25v1.7h-2.25zM292.57 542.18h2.25v1.7h-2.25zM294.21 537.91h2.25v2.28h-2.25zM295.84 531.94h2.25v1.7h-2.25zM297.48 537.63h2.25v1.7h-2.25zM299.11 536.77h2.25v2.28h-2.25zM300.75 541.04h2.25v1.7h-2.25zM302.38 538.77h2.25v1.7h-2.25zM304.02 539.9h2.25v1.7h-2.25zM305.65 541.04h2.25v1.7h-2.25zM307.29 539.9h2.25v1.7h-2.25zM312.2 542.18h2.25v1.7h-2.25zM317.1 538.77h2.25v1.7h-2.25zM320.37 542.18h2.25v1.7h-2.25zM322.01 539.9h2.25v1.7h-2.25zM325.28 538.77h2.25v1.7h-2.25zM326.92 536.49h2.25v1.7h-2.25zM328.55 537.63h2.25v1.7h-2.25zM331.82 538.77h2.25v1.7h-2.25zM335.09 539.9h2.25v1.7h-2.25zM336.73 542.18h2.25v1.7h-2.25zM338.36 541.04h2.25v1.7h-2.25zM340 541.04h2.25v1.7h-2.25zM341.63 542.18h2.25v1.7h-2.25zM343.27 542.18h2.25v1.7h-2.25zM346.54 536.77h2.25v2.28h-2.25zM348.18 539.9h2.25v1.7h-2.25zM349.81 539.9h2.25v1.7h-2.25zM353.08 534.49h2.25v2.28h-2.25zM354.72 536.49h2.25v1.7h-2.25zM356.35 537.91h2.25v2.28h-2.25zM357.99 538.77h2.25v1.7h-2.25zM359.63 538.77h2.25v1.7h-2.25zM361.26 542.18h2.25v1.7h-2.25zM364.53 542.18h2.25v1.7h-2.25zM408.69 527.38h2.25v1.7h-2.25zM411.96 523.97h2.25v1.7h-2.25zM474.11 534.21h2.25v1.7h-2.25zM488.83 534.21h2.25v1.7h-2.25zM513.36 525.11h2.25v1.7h-2.25zM515 517.14h2.25v1.7h-2.25zM516.63 522.83h2.25v1.7h-2.25zM518.27 517.14h2.25v1.7h-2.25zM524.81 519.42h2.25v1.7h-2.25zM528.08 525.11h2.25v1.7h-2.25zM531.35 518.28h2.25v1.7h-2.25zM539.53 520.56h2.25v1.7h-2.25zM541.16 526.25h2.25v1.7h-2.25zM542.8 508.04h2.25v1.7h-2.25zM544.44 520.56h2.25v1.7h-2.25zM546.07 494.66h2.25v3.41h-2.25zM549.34 495.52h2.25v1.7h-2.25zM550.98 512.87h2.25v2.28h-2.25zM552.61 500.35h2.25v2.28h-2.25zM554.25 494.66h2.25v2.28h-2.25zM555.88 485.55h2.25v2.28h-2.25zM557.52 466.21h2.25v4.55h-2.25zM559.16 478.44h2.25v1.7h-2.25zM560.79 465.07h2.25v4.55h-2.25zM562.43 487.83h2.25v2.28h-2.25zM564.06 474.17h2.25v2.28h-2.25zM565.7 445.72h2.25v4.55h-2.25zM567.33 433.2h2.25v2.28h-2.25zM568.97 359.22h2.25v6.83h-2.25zM570.6 391.09h2.25v10.24h-2.25zM572.24 342.15h2.25v5.69h-2.25zM573.87 379.71h2.25v3.41h-2.25zM575.51 359.22h2.25v9.11h-2.25zM577.15 302.31h2.25v11.38h-2.25zM578.78 308h2.25v10.24h-2.25zM580.42 333.04h2.25v11.38h-2.25zM582.05 334.18h2.25v4.55h-2.25zM583.69 371.74h2.25v14.8h-2.25zM585.32 351.25h2.25v12.52h-2.25zM586.96 321.66h2.25v17.07h-2.25zM588.59 277.27h2.25v26.18h-2.25zM590.23 248.82h2.25v30.73h-2.25zM591.87 327.35h2.25v37.56h-2.25zM593.5 325.07h2.25v12.52h-2.25zM595.14 353.53h2.25v17.07h-2.25zM596.77 344.42h2.25v25.04h-2.25zM598.41 392.23h2.25v21.62h-2.25zM600.04 301.17h2.25v20.49h-2.25zM601.68 302.31h2.25v52.36h-2.25zM603.31 312.55h2.25v54.63h-2.25zM604.95 361.49h2.25v13.66h-2.25zM606.58 391.09h2.25v28.45h-2.25zM608.22 343.28h2.25v18.21h-2.25zM609.86 401.33h2.25v13.66h-2.25zM611.49 347.84h2.25v14.8h-2.25zM613.13 351.25h2.25v15.93h-2.25zM614.76 383.12h2.25v27.32h-2.25zM616.4 368.32h2.25v23.9h-2.25zM618.03 426.37h2.25v9.11h-2.25zM619.67 375.15h2.25v7.97h-2.25zM621.3 354.67h2.25v21.62h-2.25zM622.94 320.52h2.25v25.04h-2.25zM624.57 374.01h2.25v20.49h-2.25zM626.21 372.88h2.25v15.93h-2.25zM627.85 403.61h2.25v20.49h-2.25zM629.48 426.37h2.25v17.07h-2.25zM631.12 444.58h2.25v14.8h-2.25zM632.75 465.07h2.25v10.24h-2.25zM634.39 420.68h2.25v11.38h-2.25zM636.02 422.96h2.25v15.93h-2.25zM637.66 440.03h2.25v7.97h-2.25zM639.29 428.65h2.25v11.38h-2.25zM640.93 449.13h2.25v7.97h-2.25zM642.57 450.27h2.25v5.69h-2.25zM644.2 438.89h2.25v12.52h-2.25zM645.84 435.48h2.25v9.11h-2.25zM647.47 462.79h2.25v6.83h-2.25zM649.11 438.89h2.25v10.24h-2.25zM650.74 466.21h2.25v9.11h-2.25zM652.38 462.79h2.25v6.83h-2.25zM654.01 466.21h2.25v4.55h-2.25zM655.65 447.99h2.25v2.28h-2.25zM657.28 408.16h2.25v10.24h-2.25zM658.92 453.69h2.25v2.28h-2.25zM660.56 476.45h2.25v3.41h-2.25zM662.19 475.31h2.25v5.69h-2.25zM663.83 455.96h2.25v3.41h-2.25zM665.46 476.45h2.25v3.41h-2.25zM667.1 446.86h2.25v4.55h-2.25zM668.73 394.5h2.25v3.41h-2.25zM670.37 378.57h2.25v10.24h-2.25zM672 354.67h2.25v5.69h-2.25zM673.64 376.29h2.25v4.55h-2.25zM675.28 418.4h2.25v6.83h-2.25zM676.91 418.4h2.25v4.55h-2.25zM678.55 443.44h2.25v4.55h-2.25zM680.18 369.46h2.25v9.11h-2.25zM681.82 360.36h2.25v6.83h-2.25zM683.45 366.05h2.25v4.55h-2.25zM685.09 440.03h2.25v5.69h-2.25zM686.72 426.37h2.25v3.41h-2.25zM688.36 466.21h2.25v2.28h-2.25zM689.99 389.95h2.25v15.93h-2.25zM691.63 449.13h2.25v4.55h-2.25zM693.27 447.99h2.25v7.97h-2.25zM694.9 416.13h2.25v7.97h-2.25zM696.54 460.51h2.25v6.83h-2.25zM698.17 465.07h2.25v4.55h-2.25zM699.81 454.82h2.25v5.69h-2.25zM701.44 429.78h2.25v12.52h-2.25zM703.08 444.58h2.25v3.41h-2.25zM704.71 451.41h2.25v6.83h-2.25zM706.35 449.13h2.25v4.55h-2.25zM707.99 451.41h2.25v4.55h-2.25zM709.62 485.55h2.25v4.55h-2.25zM711.26 438.89h2.25v4.55h-2.25zM712.89 461.65h2.25v6.83h-2.25zM714.53 437.75h2.25v11.38h-2.25zM716.16 458.24h2.25v4.55h-2.25zM717.8 477.59h2.25v6.83h-2.25zM719.43 484.42h2.25v3.41h-2.25zM721.07 493.52h2.25v4.55h-2.25zM722.7 506.9h2.25v1.7h-2.25zM724.34 483.28h2.25v4.55h-2.25zM725.98 450.27h2.25v3.41h-2.25zM727.61 470.76h2.25v4.55h-2.25zM729.25 507.18h2.25v2.28h-2.25zM730.88 495.8h2.25v2.28h-2.25zM732.52 501.49h2.25v3.41h-2.25zM734.15 500.07h2.25v1.7h-2.25zM735.79 488.97h2.25v5.69h-2.25zM737.42 512.87h2.25v2.28h-2.25zM739.06 504.62h2.25v1.7h-2.25zM740.69 512.87h2.25v2.28h-2.25zM742.33 501.49h2.25v3.41h-2.25zM743.97 516h2.25v1.7h-2.25zM745.6 486.69h2.25v2.28h-2.25zM747.24 509.17h2.25v1.7h-2.25zM748.87 509.17h2.25v1.7h-2.25zM750.51 509.17h2.25v1.7h-2.25zM752.14 510.59h2.25v3.41h-2.25zM753.78 520.56h2.25v1.7h-2.25zM755.41 518.56h2.25v2.28h-2.25zM757.05 520.56h2.25v1.7h-2.25zM758.69 490.11h2.25v2.28h-2.25zM760.32 487.83h2.25v4.55h-2.25zM761.96 484.42h2.25v4.55h-2.25z"/>
<path fill="#7A1F4A" d="M145.38 534.21h2.25v1.7h-2.25zM147.01 535.35h2.25v1.7h-2.25zM153.55 528.52h2.25v1.7h-2.25zM155.19 530.8h2.25v1.7h-2.25zM166.64 537.63h2.25v1.7h-2.25zM176.45 533.08h2.25v1.7h-2.25zM178.09 528.52h2.25v1.7h-2.25zM212.43 538.77h2.25v1.7h-2.25zM222.24 527.38h2.25v1.7h-2.25zM223.88 537.63h2.25v1.7h-2.25zM225.52 527.38h2.25v1.7h-2.25zM227.15 531.94h2.25v1.7h-2.25zM228.79 535.35h2.25v1.7h-2.25zM230.42 525.11h2.25v1.7h-2.25zM232.06 520.84h2.25v3.41h-2.25zM233.69 527.38h2.25v1.7h-2.25zM235.33 508.32h2.25v2.28h-2.25zM236.96 502.63h2.25v5.69h-2.25zM238.6 516.28h2.25v3.41h-2.25zM240.23 526.25h2.25v1.7h-2.25zM241.87 520.84h2.25v2.28h-2.25zM243.51 530.8h2.25v1.7h-2.25zM245.14 495.8h2.25v2.28h-2.25zM246.78 520.56h2.25v1.7h-2.25zM248.41 503.76h2.25v5.69h-2.25zM250.05 530.8h2.25v1.7h-2.25zM251.68 507.18h2.25v2.28h-2.25zM253.32 502.63h2.25v5.69h-2.25zM254.95 517.14h2.25v1.7h-2.25zM256.59 499.21h2.25v3.41h-2.25zM258.22 519.7h2.25v3.41h-2.25zM259.86 509.46h2.25v3.41h-2.25zM261.5 517.42h2.25v2.28h-2.25zM263.13 510.59h2.25v3.41h-2.25zM264.77 535.35h2.25v1.7h-2.25zM266.4 520.56h2.25v1.7h-2.25zM268.04 530.8h2.25v1.7h-2.25zM271.31 533.08h2.25v1.7h-2.25zM272.94 536.49h2.25v1.7h-2.25zM274.58 533.08h2.25v1.7h-2.25zM276.22 530.8h2.25v1.7h-2.25zM281.12 535.35h2.25v1.7h-2.25zM282.76 537.63h2.25v1.7h-2.25zM286.03 538.77h2.25v1.7h-2.25zM294.21 536.49h2.25v1.7h-2.25zM295.84 529.94h2.25v2.28h-2.25zM297.48 536.49h2.25v1.7h-2.25zM299.11 535.35h2.25v1.7h-2.25zM302.38 537.63h2.25v1.7h-2.25zM304.02 538.77h2.25v1.7h-2.25zM307.29 538.77h2.25v1.7h-2.25zM317.1 537.63h2.25v1.7h-2.25zM322.01 538.77h2.25v1.7h-2.25zM326.92 535.35h2.25v1.7h-2.25zM330.19 537.63h2.25v1.7h-2.25zM346.54 535.35h2.25v1.7h-2.25zM353.08 533.08h2.25v1.7h-2.25zM354.72 535.35h2.25v1.7h-2.25zM357.99 537.63h2.25v1.7h-2.25zM359.63 537.63h2.25v1.7h-2.25zM515 516h2.25v1.7h-2.25zM546.07 493.24h2.25v1.7h-2.25zM550.98 511.45h2.25v1.7h-2.25zM555.88 484.13h2.25v1.7h-2.25zM559.16 477.31h2.25v1.7h-2.25zM560.79 463.65h2.25v1.7h-2.25zM562.43 486.41h2.25v1.7h-2.25zM564.06 472.75h2.25v1.7h-2.25zM567.33 430.92h2.25v2.28h-2.25zM568.97 355.8h2.25v3.41h-2.25zM570.6 388.81h2.25v2.28h-2.25zM572.24 335.32h2.25v6.83h-2.25zM573.87 374.01h2.25v5.69h-2.25zM575.51 354.67h2.25v4.55h-2.25zM577.15 300.03h2.25v2.28h-2.25zM578.78 303.45h2.25v4.55h-2.25zM580.42 330.76h2.25v2.28h-2.25zM582.05 329.63h2.25v4.55h-2.25zM583.69 368.32h2.25v3.41h-2.25zM585.32 347.84h2.25v3.41h-2.25zM586.96 313.69h2.25v7.97h-2.25zM588.59 273.86h2.25v3.41h-2.25zM590.23 240.85h2.25v7.97h-2.25zM591.87 314.83h2.25v12.52h-2.25zM593.5 308h2.25v17.07h-2.25zM595.14 338.73h2.25v14.8h-2.25zM596.77 337.59h2.25v6.83h-2.25zM598.41 384.26h2.25v7.97h-2.25zM600.04 278.41h2.25v22.76h-2.25zM601.68 287.51h2.25v14.8h-2.25zM603.31 284.1h2.25v28.45h-2.25zM604.95 345.56h2.25v15.93h-2.25zM606.58 384.26h2.25v6.83h-2.25zM608.22 335.32h2.25v7.97h-2.25zM609.86 392.23h2.25v9.11h-2.25zM611.49 338.73h2.25v9.11h-2.25zM613.13 339.87h2.25v11.38h-2.25zM614.76 368.32h2.25v14.8h-2.25zM616.4 360.36h2.25v7.97h-2.25zM618.03 419.54h2.25v6.83h-2.25zM619.67 361.49h2.25v13.66h-2.25zM621.3 347.84h2.25v6.83h-2.25zM622.94 312.55h2.25v7.97h-2.25zM624.57 364.91h2.25v9.11h-2.25zM626.21 360.36h2.25v12.52h-2.25zM627.85 397.92h2.25v5.69h-2.25zM629.48 420.68h2.25v5.69h-2.25zM631.12 438.89h2.25v5.69h-2.25zM632.75 460.51h2.25v4.55h-2.25zM634.39 413.85h2.25v6.83h-2.25zM636.02 419.54h2.25v3.41h-2.25zM637.66 437.75h2.25v2.28h-2.25zM639.29 425.23h2.25v3.41h-2.25zM640.93 442.3h2.25v6.83h-2.25zM642.57 443.44h2.25v6.83h-2.25zM644.2 436.61h2.25v2.28h-2.25zM645.84 428.65h2.25v6.83h-2.25zM647.47 460.51h2.25v2.28h-2.25zM649.11 432.06h2.25v6.83h-2.25zM650.74 462.79h2.25v3.41h-2.25zM652.38 460.51h2.25v2.28h-2.25zM654.01 462.79h2.25v3.41h-2.25zM655.65 444.58h2.25v3.41h-2.25zM657.28 405.88h2.25v2.28h-2.25zM658.92 447.99h2.25v5.69h-2.25zM660.56 474.17h2.25v2.28h-2.25zM662.19 473.03h2.25v2.28h-2.25zM663.83 452.55h2.25v3.41h-2.25zM665.46 474.17h2.25v2.28h-2.25zM667.1 444.58h2.25v2.28h-2.25zM668.73 392.23h2.25v2.28h-2.25zM670.37 376.29h2.25v2.28h-2.25zM672 350.11h2.25v4.55h-2.25zM673.64 372.88h2.25v3.41h-2.25zM675.28 413.85h2.25v4.55h-2.25zM676.91 416.13h2.25v2.28h-2.25zM678.55 441.17h2.25v2.28h-2.25zM680.18 362.63h2.25v6.83h-2.25zM681.82 358.08h2.25v2.28h-2.25zM683.45 362.63h2.25v3.41h-2.25zM685.09 437.75h2.25v2.28h-2.25zM686.72 424.95h2.25v1.7h-2.25zM688.36 463.93h2.25v2.28h-2.25zM689.99 381.98h2.25v7.97h-2.25zM691.63 445.72h2.25v3.41h-2.25zM693.27 445.72h2.25v2.28h-2.25zM694.9 410.44h2.25v5.69h-2.25zM696.54 458.24h2.25v2.28h-2.25zM698.17 459.38h2.25v5.69h-2.25zM699.81 453.4h2.25v1.7h-2.25zM701.44 425.23h2.25v4.55h-2.25zM703.08 442.3h2.25v2.28h-2.25zM704.71 447.99h2.25v3.41h-2.25zM706.35 447.71h2.25v1.7h-2.25zM707.99 447.99h2.25v3.41h-2.25zM709.62 484.13h2.25v1.7h-2.25zM711.26 436.61h2.25v2.28h-2.25zM712.89 459.38h2.25v2.28h-2.25zM714.53 432.06h2.25v5.69h-2.25zM716.16 453.69h2.25v4.55h-2.25zM717.8 474.17h2.25v3.41h-2.25zM719.43 481h2.25v3.41h-2.25zM721.07 492.1h2.25v1.7h-2.25zM722.7 505.76h2.25v1.7h-2.25zM724.34 481.86h2.25v1.7h-2.25zM725.98 446.86h2.25v3.41h-2.25zM727.61 469.34h2.25v1.7h-2.25zM729.25 505.76h2.25v1.7h-2.25zM730.88 493.52h2.25v2.28h-2.25zM732.52 499.21h2.25v2.28h-2.25zM734.15 498.93h2.25v1.7h-2.25zM735.79 487.55h2.25v1.7h-2.25zM739.06 502.63h2.25v2.28h-2.25zM740.69 511.45h2.25v1.7h-2.25zM742.33 499.21h2.25v2.28h-2.25zM743.97 514.87h2.25v1.7h-2.25zM745.6 485.27h2.25v1.7h-2.25zM747.24 508.04h2.25v1.7h-2.25zM748.87 507.18h2.25v2.28h-2.25zM750.51 508.04h2.25v1.7h-2.25zM752.14 509.17h2.25v1.7h-2.25zM753.78 519.42h2.25v1.7h-2.25zM755.41 517.14h2.25v1.7h-2.25zM757.05 519.42h2.25v1.7h-2.25zM758.69 488.69h2.25v1.7h-2.25zM760.32 485.55h2.25v2.28h-2.25zM761.96 483h2.25v1.7h-2.25z"/>
<path fill="#FFF226" d="M145.38 533.08h2.25v1.7h-2.25zM160.1 539.9h2.25v1.7h-2.25zM166.64 536.49h2.25v1.7h-2.25zM171.54 537.63h2.25v1.7h-2.25zM173.18 536.49h2.25v1.7h-2.25zM222.24 526.25h2.25v1.7h-2.25zM223.88 536.49h2.25v1.7h-2.25zM225.52 526.25h2.25v1.7h-2.25zM227.15 530.8h2.25v1.7h-2.25zM230.42 523.97h2.25v1.7h-2.25zM232.06 519.42h2.25v1.7h-2.25zM235.33 506.9h2.25v1.7h-2.25zM236.96 501.21h2.25v1.7h-2.25zM238.6 514.87h2.25v1.7h-2.25zM240.23 525.11h2.25v1.7h-2.25zM241.87 519.42h2.25v1.7h-2.25zM245.14 494.38h2.25v1.7h-2.25zM246.78 519.42h2.25v1.7h-2.25zM248.41 502.35h2.25v1.7h-2.25zM250.05 529.66h2.25v1.7h-2.25zM251.68 505.76h2.25v1.7h-2.25zM253.32 501.21h2.25v1.7h-2.25zM256.59 497.79h2.25v1.7h-2.25zM258.22 518.28h2.25v1.7h-2.25zM259.86 508.04h2.25v1.7h-2.25zM261.5 516h2.25v1.7h-2.25zM263.13 509.17h2.25v1.7h-2.25zM266.4 519.42h2.25v1.7h-2.25zM268.04 529.66h2.25v1.7h-2.25zM269.67 539.9h2.25v1.7h-2.25zM271.31 531.94h2.25v1.7h-2.25zM272.94 535.35h2.25v1.7h-2.25zM274.58 531.94h2.25v1.7h-2.25zM276.22 529.66h2.25v1.7h-2.25zM281.12 534.21h2.25v1.7h-2.25zM282.76 536.49h2.25v1.7h-2.25zM284.39 535.35h2.25v1.7h-2.25zM287.66 541.04h2.25v1.7h-2.25zM294.21 535.35h2.25v1.7h-2.25zM295.84 528.52h2.25v1.7h-2.25zM299.11 534.21h2.25v1.7h-2.25zM302.38 536.49h2.25v1.7h-2.25zM307.29 537.63h2.25v1.7h-2.25zM308.93 538.77h2.25v1.7h-2.25zM317.1 536.49h2.25v1.7h-2.25zM320.37 541.04h2.25v1.7h-2.25zM322.01 537.63h2.25v1.7h-2.25zM323.64 541.04h2.25v1.7h-2.25zM325.28 537.63h2.25v1.7h-2.25zM326.92 534.21h2.25v1.7h-2.25zM330.19 536.49h2.25v1.7h-2.25zM331.82 537.63h2.25v1.7h-2.25zM335.09 538.77h2.25v1.7h-2.25zM346.54 534.21h2.25v1.7h-2.25zM348.18 537.91h2.25v2.28h-2.25zM349.81 538.77h2.25v1.7h-2.25zM351.45 539.9h2.25v1.7h-2.25zM353.08 526.53h2.25v6.83h-2.25zM356.35 531.08h2.25v6.83h-2.25zM357.99 536.49h2.25v1.7h-2.25zM359.63 535.63h2.25v2.28h-2.25zM371.07 541.04h2.25v1.7h-2.25zM372.71 538.77h2.25v1.7h-2.25zM374.34 539.9h2.25v1.7h-2.25zM377.62 536.77h2.25v2.28h-2.25zM379.25 537.91h2.25v2.28h-2.25zM380.89 529.94h2.25v2.28h-2.25zM382.52 533.36h2.25v4.55h-2.25zM384.16 537.91h2.25v2.28h-2.25zM385.79 531.08h2.25v4.55h-2.25zM387.43 535.35h2.25v1.7h-2.25zM389.06 536.49h2.25v1.7h-2.25zM393.97 536.77h2.25v2.28h-2.25zM395.61 536.77h2.25v3.41h-2.25zM397.24 534.49h2.25v3.41h-2.25zM398.88 538.77h2.25v1.7h-2.25zM403.78 540.19h2.25v2.28h-2.25zM407.05 527.67h2.25v4.55h-2.25zM408.69 525.39h2.25v2.28h-2.25zM411.96 519.7h2.25v4.55h-2.25zM413.6 532.22h2.25v3.41h-2.25zM415.23 529.94h2.25v6.83h-2.25zM416.87 535.63h2.25v2.28h-2.25zM418.5 529.94h2.25v6.83h-2.25zM423.41 529.94h2.25v4.55h-2.25zM425.05 528.8h2.25v5.69h-2.25zM426.68 537.91h2.25v2.28h-2.25zM429.95 537.91h2.25v2.28h-2.25zM431.59 528.8h2.25v5.69h-2.25zM433.22 539.9h2.25v1.7h-2.25zM434.86 536.49h2.25v1.7h-2.25zM436.49 537.91h2.25v2.28h-2.25zM438.13 535.35h2.25v1.7h-2.25zM439.76 517.42h2.25v9.11h-2.25zM441.4 533.08h2.25v1.7h-2.25zM444.67 529.94h2.25v2.28h-2.25zM451.21 533.36h2.25v3.41h-2.25zM452.85 527.67h2.25v5.69h-2.25zM456.12 535.35h2.25v1.7h-2.25zM457.75 538.77h2.25v1.7h-2.25zM459.39 527.67h2.25v3.41h-2.25zM461.03 538.77h2.25v1.7h-2.25zM462.66 537.63h2.25v1.7h-2.25zM464.3 538.77h2.25v1.7h-2.25zM465.93 534.49h2.25v3.41h-2.25zM469.2 537.91h2.25v2.28h-2.25zM470.84 532.22h2.25v2.28h-2.25zM472.47 533.36h2.25v2.28h-2.25zM474.11 532.22h2.25v2.28h-2.25zM475.75 536.49h2.25v1.7h-2.25zM477.38 536.77h2.25v3.41h-2.25zM479.02 538.77h2.25v1.7h-2.25zM480.65 536.77h2.25v2.28h-2.25zM482.29 538.77h2.25v1.7h-2.25zM483.92 533.36h2.25v4.55h-2.25zM485.56 536.77h2.25v2.28h-2.25zM487.19 526.53h2.25v4.55h-2.25zM488.83 527.67h2.25v6.83h-2.25zM490.46 526.53h2.25v9.11h-2.25zM492.1 528.8h2.25v5.69h-2.25zM493.74 533.36h2.25v4.55h-2.25zM495.37 531.08h2.25v4.55h-2.25zM498.64 517.42h2.25v9.11h-2.25zM500.28 524.25h2.25v9.11h-2.25zM501.91 524.25h2.25v6.83h-2.25zM503.55 526.53h2.25v3.41h-2.25zM505.18 527.67h2.25v4.55h-2.25zM506.82 533.36h2.25v4.55h-2.25zM508.46 524.25h2.25v7.97h-2.25zM510.09 532.22h2.25v4.55h-2.25zM511.73 525.39h2.25v2.28h-2.25zM513.36 520.84h2.25v4.55h-2.25zM515 504.9h2.25v11.38h-2.25zM516.63 518.56h2.25v4.55h-2.25zM518.27 502.63h2.25v14.8h-2.25zM519.9 512.87h2.25v5.69h-2.25zM521.54 516.28h2.25v9.11h-2.25zM523.17 525.39h2.25v3.41h-2.25zM524.81 510.59h2.25v9.11h-2.25zM526.45 526.53h2.25v5.69h-2.25zM528.08 521.98h2.25v3.41h-2.25zM529.72 521.98h2.25v4.55h-2.25zM531.35 510.59h2.25v7.97h-2.25zM532.99 510.59h2.25v4.55h-2.25zM534.62 520.84h2.25v5.69h-2.25zM536.26 516.28h2.25v4.55h-2.25zM537.89 526.53h2.25v3.41h-2.25zM539.53 510.59h2.25v10.24h-2.25zM541.16 520.84h2.25v5.69h-2.25zM542.8 500.35h2.25v7.97h-2.25zM544.44 515.15h2.25v5.69h-2.25zM546.07 477.59h2.25v15.93h-2.25zM547.71 514.01h2.25v9.11h-2.25zM549.34 488.97h2.25v6.83h-2.25zM550.98 503.76h2.25v7.97h-2.25zM552.61 485.55h2.25v14.8h-2.25zM554.25 484.42h2.25v10.24h-2.25zM555.88 465.07h2.25v19.35h-2.25zM557.52 451.41h2.25v14.8h-2.25zM559.16 465.07h2.25v12.52h-2.25zM560.79 434.34h2.25v29.59h-2.25zM562.43 462.79h2.25v23.9h-2.25zM564.06 458.24h2.25v14.8h-2.25zM565.7 408.16h2.25v37.56h-2.25zM567.33 412.71h2.25v18.21h-2.25zM568.97 330.76h2.25v25.04h-2.25zM570.6 369.46h2.25v19.35h-2.25zM572.24 315.97h2.25v19.35h-2.25zM573.87 354.67h2.25v19.35h-2.25zM575.51 319.38h2.25v35.28h-2.25zM577.15 274.99h2.25v25.04h-2.25zM578.78 276.13h2.25v27.32h-2.25zM580.42 281.82h2.25v48.94h-2.25zM582.05 305.73h2.25v23.9h-2.25zM583.69 328.49h2.25v39.84h-2.25zM585.32 319.38h2.25v28.45h-2.25zM586.96 278.41h2.25v35.28h-2.25zM588.59 239.71h2.25v34.14h-2.25zM590.23 197.6h2.25v43.25h-2.25zM591.87 277.27h2.25v37.56h-2.25zM593.5 285.24h2.25v22.76h-2.25zM595.14 310.28h2.25v28.45h-2.25zM596.77 309.14h2.25v28.45h-2.25zM598.41 364.91h2.25v19.35h-2.25zM600.04 252.23h2.25v26.18h-2.25zM601.68 261.34h2.25v26.18h-2.25zM603.31 256.78h2.25v27.32h-2.25zM604.95 325.07h2.25v20.49h-2.25zM606.58 371.74h2.25v12.52h-2.25zM608.22 315.97h2.25v19.35h-2.25zM609.86 363.77h2.25v28.45h-2.25zM611.49 310.28h2.25v28.45h-2.25zM613.13 305.73h2.25v34.14h-2.25zM614.76 335.32h2.25v33.01h-2.25zM616.4 331.9h2.25v28.45h-2.25zM618.03 402.47h2.25v17.07h-2.25zM619.67 323.94h2.25v37.56h-2.25zM621.3 319.38h2.25v28.45h-2.25zM622.94 269.3h2.25v43.25h-2.25zM624.57 337.59h2.25v27.32h-2.25zM626.21 331.9h2.25v28.45h-2.25zM627.85 359.22h2.25v38.7h-2.25zM629.48 402.47h2.25v18.21h-2.25zM631.12 426.37h2.25v12.52h-2.25zM632.75 446.86h2.25v13.66h-2.25zM634.39 385.4h2.25v28.45h-2.25zM636.02 383.12h2.25v36.42h-2.25zM637.66 396.78h2.25v40.97h-2.25zM639.29 391.09h2.25v34.14h-2.25zM640.93 419.54h2.25v22.76h-2.25zM642.57 420.68h2.25v22.76h-2.25zM644.2 416.13h2.25v20.49h-2.25zM645.84 405.88h2.25v22.76h-2.25zM647.47 434.34h2.25v26.18h-2.25zM649.11 370.6h2.25v61.46h-2.25zM650.74 447.99h2.25v14.8h-2.25zM652.38 437.75h2.25v22.76h-2.25zM654.01 445.72h2.25v17.07h-2.25zM655.65 417.26h2.25v27.32h-2.25zM657.28 372.88h2.25v33.01h-2.25zM658.92 434.34h2.25v13.66h-2.25zM660.56 457.1h2.25v17.07h-2.25zM662.19 462.79h2.25v10.24h-2.25zM663.83 444.58h2.25v7.97h-2.25zM665.46 462.79h2.25v11.38h-2.25zM667.1 419.54h2.25v25.04h-2.25zM668.73 363.77h2.25v28.45h-2.25zM670.37 337.59h2.25v38.7h-2.25zM672 300.03h2.25v50.08h-2.25zM673.64 329.63h2.25v43.25h-2.25zM675.28 393.36h2.25v20.49h-2.25zM676.91 380.84h2.25v35.28h-2.25zM678.55 421.82h2.25v19.35h-2.25zM680.18 323.94h2.25v38.7h-2.25zM681.82 314.83h2.25v43.25h-2.25zM683.45 326.21h2.25v36.42h-2.25zM685.09 404.74h2.25v33.01h-2.25zM686.72 402.47h2.25v22.76h-2.25zM688.36 440.03h2.25v23.9h-2.25zM689.99 359.22h2.25v22.76h-2.25zM691.63 397.92h2.25v47.8h-2.25zM693.27 417.26h2.25v28.45h-2.25zM694.9 388.81h2.25v21.62h-2.25zM696.54 441.17h2.25v17.07h-2.25zM698.17 442.3h2.25v17.07h-2.25zM699.81 430.92h2.25v22.76h-2.25zM701.44 377.43h2.25v47.8h-2.25zM703.08 413.85h2.25v28.45h-2.25zM704.71 419.54h2.25v28.45h-2.25zM706.35 425.23h2.25v22.76h-2.25zM707.99 425.23h2.25v22.76h-2.25zM709.62 475.31h2.25v9.11h-2.25zM711.26 425.23h2.25v11.38h-2.25zM712.89 437.75h2.25v21.62h-2.25zM714.53 408.16h2.25v23.9h-2.25zM716.16 438.89h2.25v14.8h-2.25zM717.8 455.96h2.25v18.21h-2.25zM719.43 466.21h2.25v14.8h-2.25zM721.07 486.69h2.25v5.69h-2.25zM722.7 498.07h2.25v7.97h-2.25zM724.34 471.9h2.25v10.24h-2.25zM725.98 440.03h2.25v6.83h-2.25zM727.61 459.38h2.25v10.24h-2.25zM729.25 500.35h2.25v5.69h-2.25zM730.88 485.55h2.25v7.97h-2.25zM732.52 494.66h2.25v4.55h-2.25zM734.15 494.66h2.25v4.55h-2.25zM735.79 471.9h2.25v15.93h-2.25zM737.42 508.32h2.25v4.55h-2.25zM739.06 495.8h2.25v6.83h-2.25zM740.69 506.04h2.25v5.69h-2.25zM742.33 473.03h2.25v26.18h-2.25zM743.97 509.46h2.25v5.69h-2.25zM745.6 469.62h2.25v15.93h-2.25zM747.24 495.8h2.25v12.52h-2.25zM748.87 493.52h2.25v13.66h-2.25zM750.51 495.8h2.25v12.52h-2.25zM752.14 498.07h2.25v11.38h-2.25zM753.78 511.73h2.25v7.97h-2.25zM755.41 509.46h2.25v7.97h-2.25zM757.05 511.73h2.25v7.97h-2.25zM758.69 469.62h2.25v19.35h-2.25zM760.32 471.9h2.25v13.66h-2.25zM761.96 473.03h2.25v10.24h-2.25z"/>
<path fill="#D9FF26" d="M593.5 264.75h2.25v20.49h-2.25zM596.77 297.76h2.25v11.38h-2.25zM598.41 337.59h2.25v27.32h-2.25zM601.68 256.78h2.25v4.55h-2.25zM608.22 309.14h2.25v6.83h-2.25zM609.86 344.42h2.25v19.35h-2.25zM611.49 308.86h2.25v1.7h-2.25zM613.13 304.31h2.25v1.7h-2.25zM616.4 330.48h2.25v1.7h-2.25zM619.67 312.55h2.25v11.38h-2.25zM627.85 357.8h2.25v1.7h-2.25zM634.39 383.98h2.25v1.7h-2.25zM637.66 393.36h2.25v3.41h-2.25zM644.2 414.71h2.25v1.7h-2.25zM645.84 404.46h2.25v1.7h-2.25zM649.11 361.49h2.25v9.11h-2.25zM655.65 393.36h2.25v23.9h-2.25zM657.28 354.67h2.25v18.21h-2.25zM658.92 432.92h2.25v1.7h-2.25zM663.83 438.89h2.25v5.69h-2.25zM665.46 455.96h2.25v6.83h-2.25zM667.1 413.85h2.25v5.69h-2.25zM668.73 362.35h2.25v1.7h-2.25zM672 298.62h2.25v1.7h-2.25zM675.28 391.94h2.25v1.7h-2.25zM676.91 379.42h2.25v1.7h-2.25zM678.55 420.4h2.25v1.7h-2.25zM689.99 357.8h2.25v1.7h-2.25zM691.63 396.5h2.25v1.7h-2.25zM694.9 387.39h2.25v1.7h-2.25zM696.54 437.75h2.25v3.41h-2.25zM699.81 424.09h2.25v6.83h-2.25zM704.71 418.12h2.25v1.7h-2.25z"/>
<path fill="#72FF33" d="M595.14 308.86h2.25v1.7h-2.25zM609.86 343h2.25v1.7h-2.25zM626.21 328.49h2.25v3.41h-2.25z"/>
<path fill="#2a2834" fill-opacity="0.8" d="M540 529.33h1v1.3h-1zM540 527.05h1v1.3h-1zM540 524.78h1v1.3h-1zM540 522.5h1v1.3h-1zM540 521.36h1v1.3h-1zM540 520.23h1v1.3h-1zM540 519.09h1v1.3h-1zM545 539.57h1v1.3h-1zM545 533.88h1v1.3h-1zM545 527.05h1v1.3h-1zM545 525.92h1v1.3h-1zM545 523.64h1v1.3h-1zM545 521.36h1v1.3h-1zM545 520.23h1v1.3h-1zM545 519.09h1v1.3h-1zM550 539.57h1v1.3h-1zM550 519.09h1v1.3h-1zM550 509.98h1v1.3h-1zM550 502.01h1v1.3h-1zM550 498.6h1v1.3h-1zM550 496.32h1v1.3h-1zM550 495.19h1v1.3h-1zM550 494.05h1v1.3h-1zM555 539.57h1v1.3h-1zM555 515.67h1v1.3h-1zM555 506.57h1v1.3h-1zM555 502.01h1v1.3h-1zM555 498.6h1v1.3h-1zM555 496.32h1v1.3h-1zM555 495.19h1v1.3h-1zM555 492.91h1v1.3h-1zM558 532.74h1v1.3h-1zM558 512.26h1v1.3h-1zM558 499.74h1v1.3h-1zM558 489.49h1v1.3h-1zM558 481.53h1v1.3h-1zM558 473.56h1v1.3h-1zM558 469.01h1v1.3h-1zM558 464.46h1v1.3h-1zM563 536.16h1v1.3h-1zM563 513.4h1v1.3h-1zM563 505.43h1v1.3h-1zM563 499.74h1v1.3h-1zM563 494.05h1v1.3h-1zM563 491.77h1v1.3h-1zM563 488.36h1v1.3h-1zM563 486.08h1v1.3h-1zM563 484.94h1v1.3h-1zM568 533.88h1v1.3h-1zM568 509.98h1v1.3h-1zM568 484.94h1v1.3h-1zM568 458.76h1v1.3h-1zM568 453.07h1v1.3h-1zM568 439.42h1v1.3h-1zM568 433.73h1v1.3h-1zM568 431.45h1v1.3h-1zM568 429.17h1v1.3h-1zM573 514.53h1v1.3h-1zM573 479.25h1v1.3h-1zM573 453.07h1v1.3h-1zM573 422.34h1v1.3h-1zM573 385.92h1v1.3h-1zM573 355.19h1v1.3h-1zM573 346.09h1v1.3h-1zM573 340.4h1v1.3h-1zM573 333.57h1v1.3h-1zM576 525.92h1v1.3h-1zM576 466.73h1v1.3h-1zM576 437.14h1v1.3h-1zM576 400.72h1v1.3h-1zM576 383.65h1v1.3h-1zM576 376.82h1v1.3h-1zM576 366.57h1v1.3h-1zM576 357.47h1v1.3h-1zM576 352.92h1v1.3h-1zM581 522.5h1v1.3h-1zM581 497.46h1v1.3h-1zM581 458.76h1v1.3h-1zM581 412.1h1v1.3h-1zM581 379.09h1v1.3h-1zM581 354.05h1v1.3h-1zM581 342.67h1v1.3h-1zM581 331.29h1v1.3h-1zM581 329.01h1v1.3h-1zM586 531.61h1v1.3h-1zM586 456.49h1v1.3h-1zM586 440.55h1v1.3h-1zM586 413.24h1v1.3h-1zM586 384.78h1v1.3h-1zM586 373.4h1v1.3h-1zM586 362.02h1v1.3h-1zM586 349.5h1v1.3h-1zM586 346.09h1v1.3h-1zM591 515.67h1v1.3h-1zM591 473.56h1v1.3h-1zM591 446.24h1v1.3h-1zM591 380.23h1v1.3h-1zM591 339.26h1v1.3h-1zM591 318.77h1v1.3h-1zM591 277.8h1v1.3h-1zM591 247.07h1v1.3h-1zM591 239.1h1v1.3h-1zM594 524.78h1v1.3h-1zM594 496.32h1v1.3h-1zM594 484.94h1v1.3h-1zM594 416.65h1v1.3h-1zM594 400.72h1v1.3h-1zM594 362.02h1v1.3h-1zM594 335.84h1v1.3h-1zM594 323.32h1v1.3h-1zM594 306.25h1v1.3h-1zM594 283.49h1v1.3h-1zM599 529.33h1v1.3h-1zM599 509.98h1v1.3h-1zM599 500.88h1v1.3h-1zM599 488.36h1v1.3h-1zM599 467.87h1v1.3h-1zM599 443.97h1v1.3h-1zM599 412.1h1v1.3h-1zM599 390.47h1v1.3h-1zM599 382.51h1v1.3h-1zM599 363.16h1v1.3h-1zM604 529.33h1v1.3h-1zM604 500.88h1v1.3h-1zM604 462.18h1v1.3h-1zM604 431.45h1v1.3h-1zM604 417.79h1v1.3h-1zM604 390.47h1v1.3h-1zM604 365.44h1v1.3h-1zM604 310.8h1v1.3h-1zM604 282.35h1v1.3h-1zM609 530.47h1v1.3h-1zM609 458.76h1v1.3h-1zM609 447.38h1v1.3h-1zM609 413.24h1v1.3h-1zM609 383.65h1v1.3h-1zM609 369.99h1v1.3h-1zM609 359.74h1v1.3h-1zM609 341.53h1v1.3h-1zM609 333.57h1v1.3h-1zM609 314.22h1v1.3h-1zM612 528.19h1v1.3h-1zM612 476.97h1v1.3h-1zM612 462.18h1v1.3h-1zM612 429.17h1v1.3h-1zM612 407.55h1v1.3h-1zM612 384.78h1v1.3h-1zM612 360.88h1v1.3h-1zM612 346.09h1v1.3h-1zM612 336.98h1v1.3h-1zM612 308.53h1v1.3h-1zM617 523.64h1v1.3h-1zM617 471.28h1v1.3h-1zM617 457.63h1v1.3h-1zM617 425.76h1v1.3h-1zM617 414.38h1v1.3h-1zM617 401.86h1v1.3h-1zM617 390.47h1v1.3h-1zM617 366.57h1v1.3h-1zM617 358.61h1v1.3h-1zM617 330.15h1v1.3h-1zM622 531.61h1v1.3h-1zM622 480.39h1v1.3h-1zM622 453.07h1v1.3h-1zM622 418.93h1v1.3h-1zM622 405.27h1v1.3h-1zM622 387.06h1v1.3h-1zM622 374.54h1v1.3h-1zM622 352.92h1v1.3h-1zM622 346.09h1v1.3h-1zM627 531.61h1v1.3h-1zM627 480.39h1v1.3h-1zM627 451.94h1v1.3h-1zM627 418.93h1v1.3h-1zM627 406.41h1v1.3h-1zM627 399.58h1v1.3h-1zM627 387.06h1v1.3h-1zM627 371.13h1v1.3h-1zM627 358.61h1v1.3h-1zM627 330.15h1v1.3h-1zM630 523.64h1v1.3h-1zM630 503.15h1v1.3h-1zM630 489.49h1v1.3h-1zM630 471.28h1v1.3h-1zM630 458.76h1v1.3h-1zM630 448.52h1v1.3h-1zM630 441.69h1v1.3h-1zM630 424.62h1v1.3h-1zM630 418.93h1v1.3h-1zM635 530.47h1v1.3h-1zM635 500.88h1v1.3h-1zM635 482.67h1v1.3h-1zM635 467.87h1v1.3h-1zM635 451.94h1v1.3h-1zM635 440.55h1v1.3h-1zM635 430.31h1v1.3h-1zM635 418.93h1v1.3h-1zM635 412.1h1v1.3h-1zM635 383.65h1v1.3h-1zM640 532.74h1v1.3h-1zM640 507.71h1v1.3h-1zM640 492.91h1v1.3h-1zM640 472.42h1v1.3h-1zM640 458.76h1v1.3h-1zM640 450.8h1v1.3h-1zM640 438.28h1v1.3h-1zM640 426.9h1v1.3h-1zM640 423.48h1v1.3h-1zM648 531.61h1v1.3h-1zM648 507.71h1v1.3h-1zM648 499.74h1v1.3h-1zM648 489.49h1v1.3h-1zM648 480.39h1v1.3h-1zM648 476.97h1v1.3h-1zM648 467.87h1v1.3h-1zM648 461.04h1v1.3h-1zM648 458.76h1v1.3h-1zM653 535.02h1v1.3h-1zM653 508.84h1v1.3h-1zM653 498.6h1v1.3h-1zM653 489.49h1v1.3h-1zM653 480.39h1v1.3h-1zM653 473.56h1v1.3h-1zM653 467.87h1v1.3h-1zM653 461.04h1v1.3h-1zM653 458.76h1v1.3h-1zM658 528.19h1v1.3h-1zM658 499.74h1v1.3h-1zM658 480.39h1v1.3h-1zM658 461.04h1v1.3h-1zM658 437.14h1v1.3h-1zM658 428.03h1v1.3h-1zM658 416.65h1v1.3h-1zM658 406.41h1v1.3h-1zM658 404.13h1v1.3h-1zM658 371.13h1v1.3h-1zM666 536.16h1v1.3h-1zM666 511.12h1v1.3h-1zM666 500.88h1v1.3h-1zM666 492.91h1v1.3h-1zM666 484.94h1v1.3h-1zM666 481.53h1v1.3h-1zM666 478.11h1v1.3h-1zM666 474.7h1v1.3h-1zM666 472.42h1v1.3h-1zM666 461.04h1v1.3h-1zM671 529.33h1v1.3h-1zM671 476.97h1v1.3h-1zM671 466.73h1v1.3h-1zM671 437.14h1v1.3h-1zM671 408.69h1v1.3h-1zM671 393.89h1v1.3h-1zM671 387.06h1v1.3h-1zM671 376.82h1v1.3h-1zM671 374.54h1v1.3h-1zM676 531.61h1v1.3h-1zM676 509.98h1v1.3h-1zM676 503.15h1v1.3h-1zM676 471.28h1v1.3h-1zM676 439.42h1v1.3h-1zM676 432.59h1v1.3h-1zM676 423.48h1v1.3h-1zM676 416.65h1v1.3h-1zM676 412.1h1v1.3h-1zM676 391.61h1v1.3h-1zM684 528.19h1v1.3h-1zM684 473.56h1v1.3h-1zM684 454.21h1v1.3h-1zM684 410.96h1v1.3h-1zM684 377.96h1v1.3h-1zM684 372.26h1v1.3h-1zM684 368.85h1v1.3h-1zM684 364.3h1v1.3h-1zM684 360.88h1v1.3h-1zM689 532.74h1v1.3h-1zM689 509.98h1v1.3h-1zM689 500.88h1v1.3h-1zM689 491.77h1v1.3h-1zM689 478.11h1v1.3h-1zM689 472.42h1v1.3h-1zM689 466.73h1v1.3h-1zM689 464.46h1v1.3h-1zM689 462.18h1v1.3h-1zM694 531.61h1v1.3h-1zM694 517.95h1v1.3h-1zM694 507.71h1v1.3h-1zM694 483.8h1v1.3h-1zM694 470.15h1v1.3h-1zM694 461.04h1v1.3h-1zM694 454.21h1v1.3h-1zM694 446.24h1v1.3h-1zM694 443.97h1v1.3h-1zM697 536.16h1v1.3h-1zM697 520.23h1v1.3h-1zM697 504.29h1v1.3h-1zM697 487.22h1v1.3h-1zM697 481.53h1v1.3h-1zM697 473.56h1v1.3h-1zM697 465.59h1v1.3h-1zM697 458.76h1v1.3h-1zM697 456.49h1v1.3h-1zM697 439.42h1v1.3h-1zM702 525.92h1v1.3h-1zM702 508.84h1v1.3h-1zM702 494.05h1v1.3h-1zM702 463.32h1v1.3h-1zM702 453.07h1v1.3h-1zM702 448.52h1v1.3h-1zM702 440.55h1v1.3h-1zM702 428.03h1v1.3h-1zM702 423.48h1v1.3h-1zM707 533.88h1v1.3h-1zM707 508.84h1v1.3h-1zM707 497.46h1v1.3h-1zM707 476.97h1v1.3h-1zM707 469.01h1v1.3h-1zM707 459.9h1v1.3h-1zM707 451.94h1v1.3h-1zM707 447.38h1v1.3h-1zM707 446.24h1v1.3h-1zM712 530.47h1v1.3h-1zM712 500.88h1v1.3h-1zM712 486.08h1v1.3h-1zM712 475.84h1v1.3h-1zM712 457.63h1v1.3h-1zM712 447.38h1v1.3h-1zM712 441.69h1v1.3h-1zM712 437.14h1v1.3h-1zM712 434.86h1v1.3h-1zM715 532.74h1v1.3h-1zM715 499.74h1v1.3h-1zM715 490.63h1v1.3h-1zM715 476.97h1v1.3h-1zM715 467.87h1v1.3h-1zM715 455.35h1v1.3h-1zM715 447.38h1v1.3h-1zM715 436h1v1.3h-1zM715 430.31h1v1.3h-1zM720 533.88h1v1.3h-1zM720 515.67h1v1.3h-1zM720 506.57h1v1.3h-1zM720 499.74h1v1.3h-1zM720 494.05h1v1.3h-1zM720 490.63h1v1.3h-1zM720 486.08h1v1.3h-1zM720 482.67h1v1.3h-1zM720 479.25h1v1.3h-1zM725 538.44h1v1.3h-1zM725 521.36h1v1.3h-1zM725 517.95h1v1.3h-1zM725 502.01h1v1.3h-1zM725 492.91h1v1.3h-1zM725 489.49h1v1.3h-1zM725 486.08h1v1.3h-1zM725 481.53h1v1.3h-1zM725 480.39h1v1.3h-1zM730 530.47h1v1.3h-1zM730 523.64h1v1.3h-1zM730 520.23h1v1.3h-1zM730 512.26h1v1.3h-1zM730 508.84h1v1.3h-1zM730 507.71h1v1.3h-1zM730 505.43h1v1.3h-1zM730 504.29h1v1.3h-1zM733 539.57h1v1.3h-1zM733 530.47h1v1.3h-1zM733 527.05h1v1.3h-1zM733 516.81h1v1.3h-1zM733 512.26h1v1.3h-1zM733 507.71h1v1.3h-1zM733 503.15h1v1.3h-1zM733 499.74h1v1.3h-1zM733 497.46h1v1.3h-1zM738 539.57h1v1.3h-1zM738 531.61h1v1.3h-1zM738 527.05h1v1.3h-1zM738 523.64h1v1.3h-1zM738 517.95h1v1.3h-1zM738 515.67h1v1.3h-1zM738 513.4h1v1.3h-1zM738 511.12h1v1.3h-1zM743 537.3h1v1.3h-1zM743 528.19h1v1.3h-1zM743 524.78h1v1.3h-1zM743 520.23h1v1.3h-1zM743 511.12h1v1.3h-1zM743 505.43h1v1.3h-1zM743 503.15h1v1.3h-1zM743 499.74h1v1.3h-1zM743 497.46h1v1.3h-1zM748 532.74h1v1.3h-1zM748 525.92h1v1.3h-1zM748 519.09h1v1.3h-1zM748 512.26h1v1.3h-1zM748 511.12h1v1.3h-1zM748 508.84h1v1.3h-1zM748 507.71h1v1.3h-1zM748 506.57h1v1.3h-1zM751 537.3h1v1.3h-1zM751 527.05h1v1.3h-1zM751 524.78h1v1.3h-1zM751 516.81h1v1.3h-1zM751 513.4h1v1.3h-1zM751 509.98h1v1.3h-1zM751 508.84h1v1.3h-1zM751 507.71h1v1.3h-1zM751 506.57h1v1.3h-1zM756 538.44h1v1.3h-1zM756 531.61h1v1.3h-1zM756 527.05h1v1.3h-1zM756 524.78h1v1.3h-1zM756 522.5h1v1.3h-1zM756 521.36h1v1.3h-1zM756 519.09h1v1.3h-1zM756 516.81h1v1.3h-1zM756 515.67h1v1.3h-1zM761 533.88h1v1.3h-1zM761 525.92h1v1.3h-1zM761 514.53h1v1.3h-1zM761 503.15h1v1.3h-1zM761 499.74h1v1.3h-1zM761 496.32h1v1.3h-1zM761 490.63h1v1.3h-1zM761 486.08h1v1.3h-1zM761 483.8h1v1.3h-1z"/>
</g>
</svg></body></html>
